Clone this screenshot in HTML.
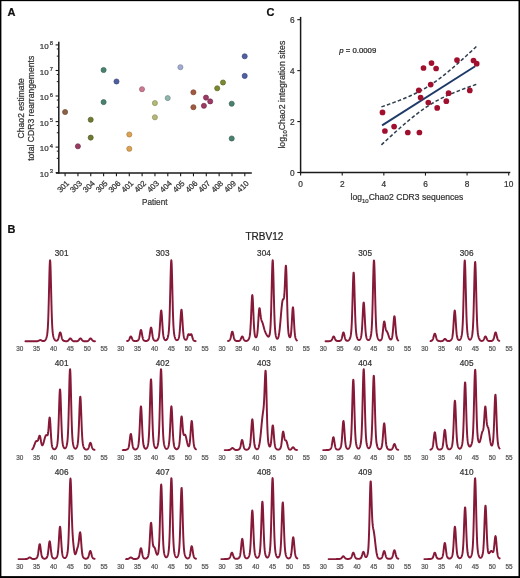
<!DOCTYPE html>
<html><head><meta charset="utf-8"><style>
html,body{margin:0;padding:0;background:#fff;}
svg{display:block;will-change:transform;}
svg text{font-family:"Liberation Sans",sans-serif;}
</style></head><body>
<svg width="520" height="578" viewBox="0 0 520 578">
<rect x="0" y="0" width="520" height="578" fill="#fff"/>
<text stroke="#111" stroke-width="0.22" x="7.6" y="16.2" font-size="11" font-weight="bold" fill="#111">A</text>
<text stroke="#111" stroke-width="0.22" x="7.6" y="233.4" font-size="11" font-weight="bold" fill="#111">B</text>
<text stroke="#111" stroke-width="0.22" x="266.6" y="16.4" font-size="11" font-weight="bold" fill="#111">C</text>
<line x1="58.8" y1="41.8" x2="58.8" y2="173.7" stroke="#1a1a1a" stroke-width="1.5"/>
<line x1="56" y1="173.0" x2="251.8" y2="173.0" stroke="#1a1a1a" stroke-width="1.4"/>
<line x1="55.6" y1="44.90" x2="58.8" y2="44.90" stroke="#1a1a1a" stroke-width="1.1"/>
<text stroke="#333" stroke-width="0.22" x="48.6" y="48.90" font-size="8.0" fill="#333" text-anchor="end">10</text>
<text stroke="#333" stroke-width="0.22" x="49.8" y="45.40" font-size="5.8" fill="#333">8</text>
<line x1="55.6" y1="70.50" x2="58.8" y2="70.50" stroke="#1a1a1a" stroke-width="1.1"/>
<text stroke="#333" stroke-width="0.22" x="48.6" y="74.50" font-size="8.0" fill="#333" text-anchor="end">10</text>
<text stroke="#333" stroke-width="0.22" x="49.8" y="71.00" font-size="5.8" fill="#333">7</text>
<line x1="55.6" y1="96.00" x2="58.8" y2="96.00" stroke="#1a1a1a" stroke-width="1.1"/>
<text stroke="#333" stroke-width="0.22" x="48.6" y="100.00" font-size="8.0" fill="#333" text-anchor="end">10</text>
<text stroke="#333" stroke-width="0.22" x="49.8" y="96.50" font-size="5.8" fill="#333">6</text>
<line x1="55.6" y1="121.60" x2="58.8" y2="121.60" stroke="#1a1a1a" stroke-width="1.1"/>
<text stroke="#333" stroke-width="0.22" x="48.6" y="125.60" font-size="8.0" fill="#333" text-anchor="end">10</text>
<text stroke="#333" stroke-width="0.22" x="49.8" y="122.10" font-size="5.8" fill="#333">5</text>
<line x1="55.6" y1="147.10" x2="58.8" y2="147.10" stroke="#1a1a1a" stroke-width="1.1"/>
<text stroke="#333" stroke-width="0.22" x="48.6" y="151.10" font-size="8.0" fill="#333" text-anchor="end">10</text>
<text stroke="#333" stroke-width="0.22" x="49.8" y="147.60" font-size="5.8" fill="#333">4</text>
<line x1="55.6" y1="172.70" x2="58.8" y2="172.70" stroke="#1a1a1a" stroke-width="1.1"/>
<text stroke="#333" stroke-width="0.22" x="48.6" y="176.70" font-size="8.0" fill="#333" text-anchor="end">10</text>
<text stroke="#333" stroke-width="0.22" x="49.8" y="173.20" font-size="5.8" fill="#333">3</text>
<line x1="56.8" y1="151.14" x2="58.8" y2="151.14" stroke="#1a1a1a" stroke-width="1.0"/>
<line x1="56.8" y1="158.34" x2="58.8" y2="158.34" stroke="#1a1a1a" stroke-width="1.0"/>
<line x1="56.8" y1="125.54" x2="58.8" y2="125.54" stroke="#1a1a1a" stroke-width="1.0"/>
<line x1="56.8" y1="132.74" x2="58.8" y2="132.74" stroke="#1a1a1a" stroke-width="1.0"/>
<line x1="56.8" y1="100.04" x2="58.8" y2="100.04" stroke="#1a1a1a" stroke-width="1.0"/>
<line x1="56.8" y1="107.24" x2="58.8" y2="107.24" stroke="#1a1a1a" stroke-width="1.0"/>
<line x1="56.8" y1="74.44" x2="58.8" y2="74.44" stroke="#1a1a1a" stroke-width="1.0"/>
<line x1="56.8" y1="81.64" x2="58.8" y2="81.64" stroke="#1a1a1a" stroke-width="1.0"/>
<line x1="56.8" y1="48.94" x2="58.8" y2="48.94" stroke="#1a1a1a" stroke-width="1.0"/>
<line x1="56.8" y1="56.14" x2="58.8" y2="56.14" stroke="#1a1a1a" stroke-width="1.0"/>
<line x1="65.10" y1="173.0" x2="65.10" y2="176.3" stroke="#1a1a1a" stroke-width="1.1"/>
<text stroke="#333" stroke-width="0.22" x="69.70" y="183.80" font-size="7.9" fill="#333" text-anchor="end" transform="rotate(-45 69.70 183.80)">301</text>
<line x1="77.94" y1="173.0" x2="77.94" y2="176.3" stroke="#1a1a1a" stroke-width="1.1"/>
<text stroke="#333" stroke-width="0.22" x="82.54" y="183.80" font-size="7.9" fill="#333" text-anchor="end" transform="rotate(-45 82.54 183.80)">303</text>
<line x1="90.77" y1="173.0" x2="90.77" y2="176.3" stroke="#1a1a1a" stroke-width="1.1"/>
<text stroke="#333" stroke-width="0.22" x="95.37" y="183.80" font-size="7.9" fill="#333" text-anchor="end" transform="rotate(-45 95.37 183.80)">304</text>
<line x1="103.61" y1="173.0" x2="103.61" y2="176.3" stroke="#1a1a1a" stroke-width="1.1"/>
<text stroke="#333" stroke-width="0.22" x="108.21" y="183.80" font-size="7.9" fill="#333" text-anchor="end" transform="rotate(-45 108.21 183.80)">305</text>
<line x1="116.44" y1="173.0" x2="116.44" y2="176.3" stroke="#1a1a1a" stroke-width="1.1"/>
<text stroke="#333" stroke-width="0.22" x="121.04" y="183.80" font-size="7.9" fill="#333" text-anchor="end" transform="rotate(-45 121.04 183.80)">306</text>
<line x1="129.28" y1="173.0" x2="129.28" y2="176.3" stroke="#1a1a1a" stroke-width="1.1"/>
<text stroke="#333" stroke-width="0.22" x="133.88" y="183.80" font-size="7.9" fill="#333" text-anchor="end" transform="rotate(-45 133.88 183.80)">401</text>
<line x1="142.12" y1="173.0" x2="142.12" y2="176.3" stroke="#1a1a1a" stroke-width="1.1"/>
<text stroke="#333" stroke-width="0.22" x="146.72" y="183.80" font-size="7.9" fill="#333" text-anchor="end" transform="rotate(-45 146.72 183.80)">402</text>
<line x1="154.95" y1="173.0" x2="154.95" y2="176.3" stroke="#1a1a1a" stroke-width="1.1"/>
<text stroke="#333" stroke-width="0.22" x="159.55" y="183.80" font-size="7.9" fill="#333" text-anchor="end" transform="rotate(-45 159.55 183.80)">403</text>
<line x1="167.79" y1="173.0" x2="167.79" y2="176.3" stroke="#1a1a1a" stroke-width="1.1"/>
<text stroke="#333" stroke-width="0.22" x="172.39" y="183.80" font-size="7.9" fill="#333" text-anchor="end" transform="rotate(-45 172.39 183.80)">404</text>
<line x1="180.62" y1="173.0" x2="180.62" y2="176.3" stroke="#1a1a1a" stroke-width="1.1"/>
<text stroke="#333" stroke-width="0.22" x="185.22" y="183.80" font-size="7.9" fill="#333" text-anchor="end" transform="rotate(-45 185.22 183.80)">405</text>
<line x1="193.46" y1="173.0" x2="193.46" y2="176.3" stroke="#1a1a1a" stroke-width="1.1"/>
<text stroke="#333" stroke-width="0.22" x="198.06" y="183.80" font-size="7.9" fill="#333" text-anchor="end" transform="rotate(-45 198.06 183.80)">406</text>
<line x1="206.30" y1="173.0" x2="206.30" y2="176.3" stroke="#1a1a1a" stroke-width="1.1"/>
<text stroke="#333" stroke-width="0.22" x="210.90" y="183.80" font-size="7.9" fill="#333" text-anchor="end" transform="rotate(-45 210.90 183.80)">407</text>
<line x1="219.13" y1="173.0" x2="219.13" y2="176.3" stroke="#1a1a1a" stroke-width="1.1"/>
<text stroke="#333" stroke-width="0.22" x="223.73" y="183.80" font-size="7.9" fill="#333" text-anchor="end" transform="rotate(-45 223.73 183.80)">408</text>
<line x1="231.97" y1="173.0" x2="231.97" y2="176.3" stroke="#1a1a1a" stroke-width="1.1"/>
<text stroke="#333" stroke-width="0.22" x="236.57" y="183.80" font-size="7.9" fill="#333" text-anchor="end" transform="rotate(-45 236.57 183.80)">409</text>
<line x1="244.80" y1="173.0" x2="244.80" y2="176.3" stroke="#1a1a1a" stroke-width="1.1"/>
<text stroke="#333" stroke-width="0.22" x="249.40" y="183.80" font-size="7.9" fill="#333" text-anchor="end" transform="rotate(-45 249.40 183.80)">410</text>
<text stroke="#333" stroke-width="0.22" x="142" y="205" font-size="9.2" fill="#333" textLength="25.5" lengthAdjust="spacingAndGlyphs">Patient</text>
<text stroke="#333" stroke-width="0.22" transform="translate(23.8 108.3) rotate(-90)" font-size="8.6" fill="#333" text-anchor="middle">Chao2 estimate</text>
<text stroke="#333" stroke-width="0.22" transform="translate(33.8 108.3) rotate(-90)" font-size="8.6" fill="#333" text-anchor="middle">total CDR3 rearrangements</text>
<circle cx="65.1" cy="112.0" r="2.55" fill="#8c6246" stroke="#6d4c36" stroke-width="0.7"/>
<circle cx="77.9" cy="146.3" r="2.55" fill="#983c62" stroke="#762e4c" stroke-width="0.7"/>
<circle cx="90.7" cy="119.7" r="2.55" fill="#6c7a34" stroke="#545f28" stroke-width="0.7"/>
<circle cx="90.7" cy="137.6" r="2.55" fill="#6c7a34" stroke="#545f28" stroke-width="0.7"/>
<circle cx="103.6" cy="70.0" r="2.55" fill="#4a8270" stroke="#396557" stroke-width="0.7"/>
<circle cx="103.6" cy="102.1" r="2.55" fill="#4a8270" stroke="#396557" stroke-width="0.7"/>
<circle cx="116.5" cy="81.5" r="2.55" fill="#4e5e9e" stroke="#3c497b" stroke-width="0.7"/>
<circle cx="129.3" cy="134.5" r="2.55" fill="#dca252" stroke="#ab7e3f" stroke-width="0.7"/>
<circle cx="129.3" cy="148.8" r="2.55" fill="#dca252" stroke="#ab7e3f" stroke-width="0.7"/>
<circle cx="142.0" cy="89.2" r="2.55" fill="#cc7a92" stroke="#9f5f71" stroke-width="0.7"/>
<circle cx="154.9" cy="103.1" r="2.55" fill="#b6b878" stroke="#8d8f5d" stroke-width="0.7"/>
<circle cx="154.9" cy="117.3" r="2.55" fill="#b6b878" stroke="#8d8f5d" stroke-width="0.7"/>
<circle cx="167.7" cy="98.1" r="2.55" fill="#90b6ac" stroke="#708d86" stroke-width="0.7"/>
<circle cx="180.4" cy="67.2" r="2.55" fill="#a2acd2" stroke="#7e86a3" stroke-width="0.7"/>
<circle cx="193.4" cy="92.3" r="2.55" fill="#a05a3e" stroke="#7c4630" stroke-width="0.7"/>
<circle cx="193.4" cy="107.2" r="2.55" fill="#a05a3e" stroke="#7c4630" stroke-width="0.7"/>
<circle cx="206.0" cy="97.6" r="2.55" fill="#9c3a66" stroke="#792d4f" stroke-width="0.7"/>
<circle cx="210.2" cy="101.4" r="2.55" fill="#9c3a66" stroke="#792d4f" stroke-width="0.7"/>
<circle cx="203.9" cy="105.8" r="2.55" fill="#9c3a66" stroke="#792d4f" stroke-width="0.7"/>
<circle cx="217.2" cy="88.3" r="2.55" fill="#7a8a30" stroke="#5f6b25" stroke-width="0.7"/>
<circle cx="223.0" cy="82.5" r="2.55" fill="#7a8a30" stroke="#5f6b25" stroke-width="0.7"/>
<circle cx="231.7" cy="103.7" r="2.55" fill="#4a8070" stroke="#396357" stroke-width="0.7"/>
<circle cx="231.7" cy="138.5" r="2.55" fill="#4a8070" stroke="#396357" stroke-width="0.7"/>
<circle cx="244.7" cy="56.3" r="2.55" fill="#5060a0" stroke="#3e4a7c" stroke-width="0.7"/>
<circle cx="244.7" cy="75.9" r="2.55" fill="#5060a0" stroke="#3e4a7c" stroke-width="0.7"/>
<line x1="300.6" y1="16.9" x2="300.6" y2="173.2" stroke="#1a1a1a" stroke-width="1.5"/>
<line x1="299.90000000000003" y1="172.5" x2="510.3" y2="172.5" stroke="#1a1a1a" stroke-width="1.4"/>
<line x1="297.3" y1="172.50" x2="300.6" y2="172.50" stroke="#1a1a1a" stroke-width="1.1"/>
<text stroke="#333" stroke-width="0.22" x="294.6" y="175.90" font-size="8.3" fill="#333" text-anchor="end">0</text>
<line x1="297.3" y1="121.56" x2="300.6" y2="121.56" stroke="#1a1a1a" stroke-width="1.1"/>
<text stroke="#333" stroke-width="0.22" x="294.6" y="124.96" font-size="8.3" fill="#333" text-anchor="end">2</text>
<line x1="297.3" y1="70.62" x2="300.6" y2="70.62" stroke="#1a1a1a" stroke-width="1.1"/>
<text stroke="#333" stroke-width="0.22" x="294.6" y="74.02" font-size="8.3" fill="#333" text-anchor="end">4</text>
<line x1="297.3" y1="19.68" x2="300.6" y2="19.68" stroke="#1a1a1a" stroke-width="1.1"/>
<text stroke="#333" stroke-width="0.22" x="294.6" y="23.08" font-size="8.3" fill="#333" text-anchor="end">6</text>
<line x1="300.60" y1="172.5" x2="300.60" y2="175.6" stroke="#1a1a1a" stroke-width="1.1"/>
<text stroke="#333" stroke-width="0.22" x="300.60" y="186.8" font-size="8.3" fill="#333" text-anchor="middle">0</text>
<line x1="342.22" y1="172.5" x2="342.22" y2="175.6" stroke="#1a1a1a" stroke-width="1.1"/>
<text stroke="#333" stroke-width="0.22" x="342.22" y="186.8" font-size="8.3" fill="#333" text-anchor="middle">2</text>
<line x1="383.84" y1="172.5" x2="383.84" y2="175.6" stroke="#1a1a1a" stroke-width="1.1"/>
<text stroke="#333" stroke-width="0.22" x="383.84" y="186.8" font-size="8.3" fill="#333" text-anchor="middle">4</text>
<line x1="425.46" y1="172.5" x2="425.46" y2="175.6" stroke="#1a1a1a" stroke-width="1.1"/>
<text stroke="#333" stroke-width="0.22" x="425.46" y="186.8" font-size="8.3" fill="#333" text-anchor="middle">6</text>
<line x1="467.08" y1="172.5" x2="467.08" y2="175.6" stroke="#1a1a1a" stroke-width="1.1"/>
<text stroke="#333" stroke-width="0.22" x="467.08" y="186.8" font-size="8.3" fill="#333" text-anchor="middle">8</text>
<line x1="508.70" y1="172.5" x2="508.70" y2="175.6" stroke="#1a1a1a" stroke-width="1.1"/>
<text stroke="#333" stroke-width="0.22" x="508.70" y="186.8" font-size="8.3" fill="#333" text-anchor="middle">10</text>
<text stroke="#333" stroke-width="0.22" x="350.6" y="199.9" font-size="8.55" fill="#333">log<tspan font-size="6" dy="2.6">10</tspan><tspan dy="-2.6">Chao2 CDR3 sequences</tspan></text>
<text stroke="#333" stroke-width="0.22" transform="translate(284.8 148.6) rotate(-90)" font-size="8.75" fill="#333">log<tspan font-size="6" dy="2.6">10</tspan><tspan dy="-2.6">Chao2 integration sites</tspan></text>
<text stroke="#222" stroke-width="0.22" x="339.2" y="53.0" font-size="7.8" fill="#222"><tspan font-style="italic">p</tspan> = 0.0009</text>
<line x1="382.1" y1="125.4" x2="475.2" y2="66.2" stroke="#1e3a68" stroke-width="1.9"/>
<polyline points="381.40,106.91 382.99,106.36 384.58,105.81 386.16,105.25 387.75,104.69 389.34,104.13 390.93,103.55 392.52,102.98 394.11,102.39 395.69,101.80 397.28,101.20 398.87,100.59 400.46,99.96 402.05,99.33 403.64,98.69 405.22,98.04 406.81,97.37 408.40,96.68 409.99,95.98 411.58,95.26 413.17,94.53 414.75,93.77 416.34,92.99 417.93,92.19 419.52,91.37 421.11,90.51 422.70,89.63 424.28,88.73 425.87,87.79 427.46,86.83 429.05,85.83 430.64,84.80 432.23,83.75 433.81,82.66 435.40,81.55 436.99,80.40 438.58,79.23 440.17,78.04 441.76,76.82 443.34,75.57 444.93,74.31 446.52,73.02 448.11,71.72 449.70,70.40 451.29,69.06 452.88,67.71 454.46,66.34 456.05,64.96 457.64,63.57 459.23,62.17 460.82,60.76 462.40,59.34 463.99,57.92 465.58,56.48 467.17,55.04 468.76,53.59 470.35,52.14 471.94,50.68 473.52,49.21 475.11,47.74 476.70,46.27" fill="none" stroke="#2e3e4e" stroke-width="1.5" stroke-dasharray="3.6 2.2"/>
<polyline points="381.40,144.86 382.99,143.38 384.58,141.91 386.16,140.45 387.75,138.99 389.34,137.53 390.93,136.09 392.52,134.64 394.11,133.21 395.69,131.78 397.28,130.36 398.87,128.95 400.46,127.55 402.05,126.17 403.64,124.79 405.22,123.42 406.81,122.07 408.40,120.74 409.99,119.42 411.58,118.11 413.17,116.83 414.75,115.56 416.34,114.32 417.93,113.10 419.52,111.91 421.11,110.74 422.70,109.60 424.28,108.49 425.87,107.40 427.46,106.35 429.05,105.32 430.64,104.33 432.23,103.36 433.81,102.43 435.40,101.53 436.99,100.65 438.58,99.80 440.17,98.97 441.76,98.17 443.34,97.40 444.93,96.64 446.52,95.91 448.11,95.19 449.70,94.49 451.29,93.81 452.88,93.14 454.46,92.48 456.05,91.84 457.64,91.21 459.23,90.59 460.82,89.98 462.40,89.38 463.99,88.79 465.58,88.20 467.17,87.62 468.76,87.05 470.35,86.49 471.94,85.93 473.52,85.37 475.11,84.82 476.70,84.28" fill="none" stroke="#2e3e4e" stroke-width="1.5" stroke-dasharray="3.6 2.2"/>
<circle cx="382.5" cy="112.4" r="2.85" fill="#a0102e"/>
<circle cx="384.9" cy="131.0" r="2.85" fill="#a0102e"/>
<circle cx="394.1" cy="126.6" r="2.85" fill="#a0102e"/>
<circle cx="407.8" cy="132.5" r="2.85" fill="#a0102e"/>
<circle cx="419.4" cy="132.5" r="2.85" fill="#a0102e"/>
<circle cx="418.8" cy="90.3" r="2.85" fill="#a0102e"/>
<circle cx="420.6" cy="97.5" r="2.85" fill="#a0102e"/>
<circle cx="428.3" cy="102.5" r="2.85" fill="#a0102e"/>
<circle cx="430.7" cy="84.6" r="2.85" fill="#a0102e"/>
<circle cx="423.5" cy="68.0" r="2.85" fill="#a0102e"/>
<circle cx="431.5" cy="63.1" r="2.85" fill="#a0102e"/>
<circle cx="436.1" cy="68.5" r="2.85" fill="#a0102e"/>
<circle cx="437.2" cy="107.9" r="2.85" fill="#a0102e"/>
<circle cx="446.3" cy="101.2" r="2.85" fill="#a0102e"/>
<circle cx="448.6" cy="93.2" r="2.85" fill="#a0102e"/>
<circle cx="457.0" cy="60.1" r="2.85" fill="#a0102e"/>
<circle cx="469.8" cy="90.4" r="2.85" fill="#a0102e"/>
<circle cx="473.5" cy="60.5" r="2.85" fill="#a0102e"/>
<circle cx="476.7" cy="63.7" r="2.85" fill="#a0102e"/>
<text stroke="#222" stroke-width="0.22" x="264.4" y="240.3" font-size="10" fill="#222" text-anchor="middle">TRBV12</text>
<text stroke="#333" stroke-width="0.22" x="61.62" y="256.00" font-size="8.2" fill="#333" text-anchor="middle">301</text>
<text stroke="#555" stroke-width="0.22" x="19.70" y="351.10" font-size="6.4" fill="#555" text-anchor="middle">30</text>
<text stroke="#555" stroke-width="0.22" x="36.58" y="351.10" font-size="6.4" fill="#555" text-anchor="middle">35</text>
<text stroke="#555" stroke-width="0.22" x="53.45" y="351.10" font-size="6.4" fill="#555" text-anchor="middle">40</text>
<text stroke="#555" stroke-width="0.22" x="70.33" y="351.10" font-size="6.4" fill="#555" text-anchor="middle">45</text>
<text stroke="#555" stroke-width="0.22" x="87.20" y="351.10" font-size="6.4" fill="#555" text-anchor="middle">50</text>
<text stroke="#555" stroke-width="0.22" x="104.08" y="351.10" font-size="6.4" fill="#555" text-anchor="middle">55</text>
<polyline points="25.44,341.30 25.61,341.30 25.79,341.30 25.96,341.30 26.13,341.30 26.31,341.30 26.48,341.30 26.65,341.30 26.83,341.30 27.00,341.30 27.18,341.30 27.35,341.30 27.52,341.30 27.70,341.30 27.87,341.30 28.04,341.30 28.22,341.30 28.39,341.30 28.57,341.30 28.74,341.30 28.91,341.30 29.09,341.30 29.26,341.30 29.44,341.30 29.61,341.30 29.78,341.30 29.96,341.30 30.13,341.30 30.30,341.30 30.48,341.30 30.65,341.30 30.83,341.30 31.00,341.30 31.17,341.30 31.35,341.30 31.52,341.30 31.69,341.30 31.87,341.30 32.04,341.30 32.22,341.30 32.39,341.30 32.56,341.30 32.74,341.30 32.91,341.30 33.09,341.30 33.26,341.30 33.43,341.30 33.61,341.30 33.78,341.30 33.95,341.30 34.13,341.30 34.30,341.30 34.48,341.30 34.65,341.30 34.82,341.30 35.00,341.30 35.17,341.30 35.34,341.30 35.52,341.30 35.69,341.30 35.87,341.29 36.04,341.29 36.21,341.29 36.39,341.28 36.56,341.27 36.74,341.26 36.91,341.25 37.08,341.23 37.26,341.20 37.43,341.17 37.60,341.13 37.78,341.08 37.95,341.03 38.13,340.96 38.30,340.89 38.47,340.81 38.65,340.72 38.82,340.63 38.99,340.53 39.17,340.44 39.34,340.35 39.52,340.27 39.69,340.20 39.86,340.14 40.04,340.11 40.21,340.09 40.39,340.09 40.56,340.11 40.73,340.15 40.91,340.20 41.08,340.28 41.25,340.36 41.43,340.44 41.60,340.54 41.78,340.63 41.95,340.72 42.12,340.80 42.30,340.88 42.47,340.94 42.64,341.00 42.82,341.04 42.99,341.07 43.17,341.09 43.34,341.09 43.51,341.09 43.69,341.06 43.86,341.03 44.04,340.98 44.21,340.92 44.38,340.84 44.56,340.73 44.73,340.61 44.90,340.47 45.08,340.29 45.25,340.09 45.43,339.86 45.60,339.59 45.77,339.29 45.95,338.94 46.12,338.55 46.29,338.10 46.47,337.59 46.64,337.00 46.82,336.32 46.99,335.51 47.16,334.51 47.34,333.27 47.51,331.71 47.69,329.71 47.86,327.16 48.03,323.93 48.21,319.93 48.38,315.06 48.55,309.32 48.73,302.78 48.90,295.62 49.08,288.13 49.25,280.70 49.42,273.79 49.60,267.90 49.77,263.48 49.95,260.89 50.12,260.37 50.29,261.95 50.47,265.50 50.64,270.72 50.81,277.18 50.99,284.42 51.16,291.93 51.34,299.30 51.51,306.17 51.68,312.32 51.86,317.62 52.03,322.05 52.20,325.65 52.38,328.52 52.55,330.77 52.73,332.54 52.90,333.92 53.07,335.03 53.25,335.92 53.42,336.66 53.60,337.29 53.77,337.82 53.94,338.29 54.12,338.70 54.29,339.06 54.46,339.38 54.64,339.65 54.81,339.88 54.99,340.08 55.16,340.24 55.33,340.38 55.51,340.48 55.68,340.57 55.85,340.62 56.03,340.66 56.20,340.68 56.38,340.68 56.55,340.67 56.72,340.63 56.90,340.58 57.07,340.50 57.25,340.40 57.42,340.26 57.59,340.08 57.77,339.85 57.94,339.55 58.11,339.19 58.29,338.74 58.46,338.20 58.64,337.59 58.81,336.89 58.98,336.14 59.16,335.37 59.33,334.60 59.50,333.89 59.68,333.27 59.85,332.79 60.03,332.49 60.20,332.39 60.37,332.49 60.55,332.79 60.72,333.27 60.90,333.89 61.07,334.60 61.24,335.37 61.42,336.15 61.59,336.90 61.76,337.59 61.94,338.21 62.11,338.75 62.29,339.20 62.46,339.57 62.63,339.87 62.81,340.11 62.98,340.30 63.15,340.45 63.33,340.58 63.50,340.68 63.68,340.76 63.85,340.83 64.02,340.89 64.20,340.94 64.37,340.99 64.55,341.03 64.72,341.07 64.89,341.10 65.07,341.13 65.24,341.16 65.41,341.18 65.59,341.19 65.76,341.21 65.94,341.22 66.11,341.23 66.28,341.23 66.46,341.23 66.63,341.22 66.80,341.21 66.98,341.19 67.15,341.15 67.33,341.10 67.50,341.04 67.67,340.96 67.85,340.85 68.02,340.73 68.20,340.58 68.37,340.41 68.54,340.22 68.72,340.01 68.89,339.78 69.06,339.55 69.24,339.32 69.41,339.10 69.59,338.90 69.76,338.73 69.93,338.59 70.11,338.51 70.28,338.47 70.45,338.48 70.63,338.54 70.80,338.65 70.98,338.81 71.15,339.00 71.32,339.21 71.50,339.43 71.67,339.67 71.85,339.90 72.02,340.12 72.19,340.32 72.37,340.50 72.54,340.66 72.71,340.80 72.89,340.92 73.06,341.01 73.24,341.08 73.41,341.14 73.58,341.19 73.76,341.22 73.93,341.25 74.10,341.26 74.28,341.28 74.45,341.28 74.63,341.29 74.80,341.29 74.97,341.30 75.15,341.30 75.32,341.30 75.50,341.30 75.67,341.30 75.84,341.30 76.02,341.29 76.19,341.29 76.36,341.28 76.54,341.27 76.71,341.26 76.89,341.24 77.06,341.21 77.23,341.18 77.41,341.13 77.58,341.07 77.76,340.99 77.93,340.89 78.10,340.77 78.28,340.63 78.45,340.46 78.62,340.27 78.80,340.06 78.97,339.84 79.15,339.61 79.32,339.38 79.49,339.15 79.67,338.95 79.84,338.77 80.01,338.62 80.19,338.52 80.36,338.47 80.54,338.47 80.71,338.52 80.88,338.62 81.06,338.77 81.23,338.95 81.41,339.15 81.58,339.38 81.75,339.61 81.93,339.84 82.10,340.06 82.27,340.27 82.45,340.46 82.62,340.62 82.80,340.77 82.97,340.89 83.14,340.99 83.32,341.07 83.49,341.13 83.66,341.18 83.84,341.21 84.01,341.24 84.19,341.26 84.36,341.27 84.53,341.28 84.71,341.29 84.88,341.29 85.06,341.30 85.23,341.30 85.40,341.30 85.58,341.30 85.75,341.30 85.92,341.30 86.10,341.29 86.27,341.29 86.45,341.28 86.62,341.28 86.79,341.26 86.97,341.25 87.14,341.22 87.31,341.19 87.49,341.14 87.66,341.08 87.84,341.01 88.01,340.92 88.18,340.80 88.36,340.66 88.53,340.50 88.71,340.32 88.88,340.12 89.05,339.90 89.23,339.67 89.40,339.44 89.57,339.21 89.75,339.00 89.92,338.81 90.10,338.66 90.27,338.54 90.44,338.48 90.62,338.47 90.79,338.50 90.96,338.59 91.14,338.73 91.31,338.90 91.49,339.10 91.66,339.32 91.83,339.55 92.01,339.78 92.18,340.01 92.36,340.22 92.53,340.41 92.70,340.58 92.88,340.73 93.05,340.86 93.22,340.96 93.40,341.05 93.57,341.12 93.75,341.17 93.92,341.21 94.09,341.23 94.27,341.26 94.44,341.27 94.61,341.28 94.79,341.29 94.96,341.29" fill="none" stroke="#861838" stroke-width="1.95" stroke-linejoin="round" stroke-linecap="round"/>
<text stroke="#333" stroke-width="0.22" x="162.62" y="256.00" font-size="8.2" fill="#333" text-anchor="middle">303</text>
<text stroke="#555" stroke-width="0.22" x="120.70" y="351.10" font-size="6.4" fill="#555" text-anchor="middle">30</text>
<text stroke="#555" stroke-width="0.22" x="137.57" y="351.10" font-size="6.4" fill="#555" text-anchor="middle">35</text>
<text stroke="#555" stroke-width="0.22" x="154.45" y="351.10" font-size="6.4" fill="#555" text-anchor="middle">40</text>
<text stroke="#555" stroke-width="0.22" x="171.32" y="351.10" font-size="6.4" fill="#555" text-anchor="middle">45</text>
<text stroke="#555" stroke-width="0.22" x="188.20" y="351.10" font-size="6.4" fill="#555" text-anchor="middle">50</text>
<text stroke="#555" stroke-width="0.22" x="205.07" y="351.10" font-size="6.4" fill="#555" text-anchor="middle">55</text>
<polyline points="127.11,341.06 127.28,341.02 127.46,340.98 127.63,340.93 127.80,340.87 127.97,340.79 128.14,340.70 128.31,340.59 128.48,340.44 128.65,340.26 128.83,340.04 129.00,339.77 129.17,339.46 129.34,339.11 129.51,338.72 129.68,338.31 129.85,337.89 130.02,337.49 130.20,337.12 130.37,336.82 130.54,336.59 130.71,336.46 130.88,336.45 131.05,336.54 131.22,336.73 131.39,337.01 131.57,337.35 131.74,337.75 131.91,338.16 132.08,338.58 132.25,338.98 132.42,339.34 132.59,339.67 132.76,339.95 132.94,340.19 133.11,340.38 133.28,340.53 133.45,340.66 133.62,340.76 133.79,340.84 133.96,340.90 134.14,340.95 134.31,340.99 134.48,341.02 134.65,341.05 134.82,341.07 134.99,341.08 135.16,341.10 135.33,341.10 135.51,341.11 135.68,341.10 135.85,341.09 136.02,341.08 136.19,341.06 136.36,341.04 136.53,341.01 136.70,340.97 136.88,340.93 137.05,340.87 137.22,340.82 137.39,340.75 137.56,340.66 137.73,340.57 137.90,340.45 138.07,340.31 138.25,340.13 138.42,339.91 138.59,339.62 138.76,339.26 138.93,338.80 139.10,338.23 139.27,337.55 139.44,336.75 139.62,335.84 139.79,334.84 139.96,333.81 140.13,332.79 140.30,331.84 140.47,331.02 140.64,330.41 140.81,330.05 140.99,329.97 141.16,330.17 141.33,330.64 141.50,331.35 141.67,332.23 141.84,333.21 142.01,334.25 142.19,335.27 142.36,336.23 142.53,337.10 142.70,337.85 142.87,338.49 143.04,339.01 143.21,339.42 143.38,339.75 143.56,340.01 143.73,340.21 143.90,340.37 144.07,340.50 144.24,340.61 144.41,340.69 144.58,340.77 144.75,340.83 144.93,340.88 145.10,340.92 145.27,340.96 145.44,340.98 145.61,341.00 145.78,341.01 145.95,341.01 146.12,341.00 146.30,340.99 146.47,340.97 146.64,340.94 146.81,340.89 146.98,340.84 147.15,340.79 147.32,340.72 147.49,340.63 147.67,340.54 147.84,340.43 148.01,340.29 148.18,340.12 148.35,339.91 148.52,339.65 148.69,339.31 148.87,338.88 149.04,338.33 149.21,337.66 149.38,336.85 149.55,335.89 149.72,334.80 149.89,333.60 150.06,332.35 150.24,331.10 150.41,329.93 150.58,328.92 150.75,328.15 150.92,327.67 151.09,327.53 151.26,327.74 151.43,328.28 151.61,329.10 151.78,330.15 151.95,331.34 152.12,332.60 152.29,333.84 152.46,335.02 152.63,336.09 152.80,337.02 152.98,337.80 153.15,338.45 153.32,338.97 153.49,339.37 153.66,339.70 153.83,339.95 154.00,340.14 154.17,340.30 154.35,340.43 154.52,340.53 154.69,340.61 154.86,340.68 155.03,340.74 155.20,340.78 155.37,340.81 155.55,340.83 155.72,340.83 155.89,340.82 156.06,340.80 156.23,340.76 156.40,340.71 156.57,340.64 156.74,340.56 156.92,340.46 157.09,340.34 157.26,340.20 157.43,340.04 157.60,339.86 157.77,339.64 157.94,339.39 158.11,339.09 158.29,338.72 158.46,338.26 158.63,337.68 158.80,336.94 158.97,336.01 159.14,334.82 159.31,333.35 159.48,331.57 159.66,329.46 159.83,327.05 160.00,324.40 160.17,321.61 160.34,318.81 160.51,316.17 160.68,313.86 160.85,312.07 161.03,310.92 161.20,310.52 161.37,310.90 161.54,312.02 161.71,313.80 161.88,316.09 162.05,318.73 162.23,321.53 162.40,324.32 162.57,326.98 162.74,329.39 162.91,331.51 163.08,333.30 163.25,334.77 163.42,335.96 163.60,336.90 163.77,337.64 163.94,338.21 164.11,338.66 164.28,339.02 164.45,339.30 164.62,339.54 164.79,339.73 164.97,339.88 165.14,340.00 165.31,340.09 165.48,340.14 165.65,340.17 165.82,340.17 165.99,340.13 166.16,340.06 166.34,339.96 166.51,339.82 166.68,339.63 166.85,339.41 167.02,339.15 167.19,338.83 167.36,338.47 167.53,338.05 167.71,337.57 167.88,337.01 168.05,336.36 168.22,335.58 168.39,334.63 168.56,333.46 168.73,331.97 168.91,330.08 169.08,327.68 169.25,324.65 169.42,320.87 169.59,316.27 169.76,310.82 169.93,304.57 170.10,297.65 170.28,290.33 170.45,282.94 170.62,275.92 170.79,269.73 170.96,264.83 171.13,261.60 171.30,260.32 171.47,261.08 171.65,263.83 171.82,268.33 171.99,274.23 172.16,281.09 172.33,288.42 172.50,295.80 172.67,302.85 172.84,309.29 173.02,314.95 173.19,319.77 173.36,323.75 173.53,326.97 173.70,329.52 173.87,331.53 174.04,333.11 174.21,334.35 174.39,335.35 174.56,336.17 174.73,336.85 174.90,337.43 175.07,337.93 175.24,338.37 175.41,338.74 175.59,339.07 175.76,339.34 175.93,339.58 176.10,339.77 176.27,339.92 176.44,340.03 176.61,340.11 176.78,340.15 176.96,340.16 177.13,340.14 177.30,340.08 177.47,340.00 177.64,339.88 177.81,339.73 177.98,339.55 178.15,339.32 178.33,339.04 178.50,338.70 178.67,338.26 178.84,337.71 179.01,337.00 179.18,336.09 179.35,334.94 179.52,333.50 179.70,331.75 179.87,329.66 180.04,327.26 180.21,324.59 180.38,321.75 180.55,318.86 180.72,316.10 180.89,313.64 181.07,311.66 181.24,310.32 181.41,309.73 181.58,309.93 181.75,310.92 181.92,312.60 182.09,314.85 182.27,317.48 182.44,320.33 182.61,323.21 182.78,325.97 182.95,328.50 183.12,330.74 183.29,332.65 183.46,334.22 183.64,335.49 183.81,336.50 183.98,337.29 184.15,337.89 184.32,338.37 184.49,338.74 184.66,339.03 184.83,339.27 185.01,339.46 185.18,339.61 185.35,339.72 185.52,339.80 185.69,339.85 185.86,339.86 186.03,339.82 186.20,339.73 186.38,339.58 186.55,339.36 186.72,339.07 186.89,338.69 187.06,338.24 187.23,337.72 187.40,337.14 187.57,336.54 187.75,335.93 187.92,335.37 188.09,334.87 188.26,334.48 188.43,334.22 188.60,334.10 188.77,334.10 188.95,334.22 189.12,334.42 189.29,334.65 189.46,334.87 189.63,335.05 189.80,335.14 189.97,335.14 190.14,335.05 190.32,334.88 190.49,334.66 190.66,334.43 190.83,334.23 191.00,334.12 191.17,334.12 191.34,334.25 191.51,334.52 191.69,334.92 191.86,335.43 192.03,336.01 192.20,336.63 192.37,337.27 192.54,337.87 192.71,338.43 192.88,338.93 193.06,339.35 193.23,339.71 193.40,340.00 193.57,340.23 193.74,340.42 193.91,340.56 194.08,340.68 194.25,340.77 194.43,340.85 194.60,340.91 194.77,340.97 194.94,341.01 195.11,341.05 195.28,341.09 195.45,341.12 195.62,341.15" fill="none" stroke="#861838" stroke-width="1.95" stroke-linejoin="round" stroke-linecap="round"/>
<text stroke="#333" stroke-width="0.22" x="263.93" y="256.00" font-size="8.2" fill="#333" text-anchor="middle">304</text>
<text stroke="#555" stroke-width="0.22" x="222.00" y="351.10" font-size="6.4" fill="#555" text-anchor="middle">30</text>
<text stroke="#555" stroke-width="0.22" x="238.88" y="351.10" font-size="6.4" fill="#555" text-anchor="middle">35</text>
<text stroke="#555" stroke-width="0.22" x="255.75" y="351.10" font-size="6.4" fill="#555" text-anchor="middle">40</text>
<text stroke="#555" stroke-width="0.22" x="272.62" y="351.10" font-size="6.4" fill="#555" text-anchor="middle">45</text>
<text stroke="#555" stroke-width="0.22" x="289.50" y="351.10" font-size="6.4" fill="#555" text-anchor="middle">50</text>
<text stroke="#555" stroke-width="0.22" x="306.38" y="351.10" font-size="6.4" fill="#555" text-anchor="middle">55</text>
<polyline points="228.07,341.01 228.25,340.96 228.42,340.91 228.59,340.85 228.76,340.78 228.94,340.70 229.11,340.61 229.28,340.49 229.45,340.35 229.62,340.18 229.80,339.96 229.97,339.68 230.14,339.33 230.31,338.89 230.48,338.36 230.66,337.74 230.83,337.02 231.00,336.22 231.17,335.37 231.35,334.51 231.52,333.67 231.69,332.91 231.86,332.29 232.03,331.84 232.21,331.61 232.38,331.61 232.55,331.84 232.72,332.28 232.89,332.90 233.07,333.66 233.24,334.49 233.41,335.36 233.58,336.21 233.76,337.01 233.93,337.73 234.10,338.35 234.27,338.88 234.44,339.32 234.62,339.67 234.79,339.95 234.96,340.17 235.13,340.34 235.30,340.48 235.48,340.59 235.65,340.69 235.82,340.76 235.99,340.83 236.16,340.88 236.34,340.93 236.51,340.97 236.68,341.00 236.85,341.03 237.03,341.05 237.20,341.07 237.37,341.08 237.54,341.08 237.71,341.08 237.89,341.08 238.06,341.07 238.23,341.06 238.40,341.04 238.57,341.02 238.75,340.98 238.92,340.95 239.09,340.90 239.26,340.84 239.44,340.76 239.61,340.67 239.78,340.55 239.95,340.39 240.12,340.20 240.30,339.97 240.47,339.69 240.64,339.37 240.81,339.00 240.98,338.61 241.16,338.19 241.33,337.77 241.50,337.37 241.67,337.02 241.84,336.74 242.02,336.54 242.19,336.45 242.36,336.46 242.53,336.59 242.71,336.81 242.88,337.12 243.05,337.49 243.22,337.89 243.39,338.31 243.57,338.72 243.74,339.11 243.91,339.47 244.08,339.77 244.25,340.04 244.43,340.26 244.60,340.43 244.77,340.57 244.94,340.68 245.12,340.77 245.29,340.83 245.46,340.88 245.63,340.91 245.80,340.93 245.98,340.94 246.15,340.95 246.32,340.94 246.49,340.92 246.66,340.89 246.84,340.84 247.01,340.79 247.18,340.72 247.35,340.63 247.53,340.52 247.70,340.39 247.87,340.25 248.04,340.08 248.21,339.88 248.39,339.66 248.56,339.41 248.73,339.12 248.90,338.78 249.07,338.39 249.25,337.92 249.42,337.34 249.59,336.63 249.76,335.72 249.93,334.56 250.11,333.09 250.28,331.24 250.45,328.94 250.62,326.16 250.80,322.90 250.97,319.19 251.14,315.14 251.31,310.91 251.48,306.71 251.66,302.81 251.83,299.48 252.00,296.97 252.17,295.48 252.34,295.14 252.52,295.98 252.69,297.92 252.86,300.80 253.03,304.40 253.21,308.44 253.38,312.66 253.55,316.81 253.72,320.70 253.89,324.19 254.07,327.20 254.24,329.71 254.41,331.74 254.58,333.34 254.75,334.57 254.93,335.49 255.10,336.17 255.27,336.66 255.44,337.00 255.62,337.22 255.79,337.34 255.96,337.37 256.13,337.30 256.30,337.15 256.48,336.89 256.65,336.51 256.82,335.99 256.99,335.29 257.16,334.38 257.34,333.21 257.51,331.75 257.68,329.98 257.85,327.87 258.02,325.46 258.20,322.80 258.37,319.99 258.54,317.16 258.71,314.48 258.89,312.11 259.06,310.20 259.23,308.87 259.40,308.18 259.57,308.13 259.75,308.67 259.92,309.67 260.09,310.99 260.26,312.50 260.43,314.03 260.61,315.49 260.78,316.79 260.95,317.90 261.12,318.81 261.30,319.53 261.47,320.12 261.64,320.61 261.81,321.03 261.98,321.44 262.16,321.85 262.33,322.28 262.50,322.75 262.67,323.26 262.84,323.81 263.02,324.40 263.19,325.01 263.36,325.65 263.53,326.30 263.70,326.95 263.88,327.61 264.05,328.24 264.22,328.87 264.39,329.46 264.57,330.03 264.74,330.56 264.91,331.07 265.08,331.54 265.25,331.98 265.43,332.39 265.60,332.77 265.77,333.13 265.94,333.47 266.11,333.80 266.29,334.11 266.46,334.42 266.63,334.71 266.80,335.00 266.98,335.28 267.15,335.54 267.32,335.80 267.49,336.03 267.66,336.23 267.84,336.41 268.01,336.54 268.18,336.63 268.35,336.68 268.52,336.66 268.70,336.58 268.87,336.43 269.04,336.20 269.21,335.87 269.38,335.43 269.56,334.85 269.73,334.08 269.90,333.07 270.07,331.75 270.25,330.02 270.42,327.78 270.59,324.90 270.76,321.27 270.93,316.81 271.11,311.48 271.28,305.32 271.45,298.47 271.62,291.16 271.79,283.73 271.97,276.62 272.14,270.30 272.31,265.23 272.48,261.82 272.66,260.34 272.83,260.93 273.00,263.54 273.17,267.95 273.34,273.79 273.52,280.63 273.69,287.98 273.86,295.41 274.03,302.51 274.20,309.02 274.38,314.74 274.55,319.61 274.72,323.64 274.89,326.88 275.07,329.46 275.24,331.48 275.41,333.06 275.58,334.30 275.75,335.28 275.93,336.08 276.10,336.73 276.27,337.27 276.44,337.72 276.61,338.08 276.79,338.37 276.96,338.58 277.13,338.72 277.30,338.78 277.47,338.76 277.65,338.66 277.82,338.46 277.99,338.17 278.16,337.78 278.34,337.27 278.51,336.66 278.68,335.92 278.85,335.06 279.02,334.07 279.20,332.94 279.37,331.68 279.54,330.29 279.71,328.78 279.88,327.14 280.06,325.38 280.23,323.53 280.40,321.60 280.57,319.61 280.75,317.57 280.92,315.53 281.09,313.49 281.26,311.50 281.43,309.58 281.61,307.76 281.78,306.07 281.95,304.54 282.12,303.18 282.29,302.02 282.47,301.07 282.64,300.33 282.81,299.80 282.98,299.45 283.16,299.24 283.33,299.13 283.50,299.04 283.67,298.84 283.84,298.43 284.02,297.65 284.19,296.36 284.36,294.44 284.53,291.82 284.70,288.49 284.88,284.55 285.05,280.21 285.22,275.79 285.39,271.70 285.56,268.37 285.74,266.24 285.91,265.63 286.08,266.75 286.25,269.61 286.43,274.08 286.60,279.83 286.77,286.47 286.94,293.54 287.11,300.59 287.29,307.26 287.46,313.28 287.63,318.49 287.80,322.85 287.97,326.37 288.15,329.15 288.32,331.29 288.49,332.92 288.66,334.16 288.84,335.09 289.01,335.79 289.18,336.32 289.35,336.71 289.52,336.99 289.70,337.16 289.87,337.23 290.04,337.20 290.21,337.03 290.38,336.72 290.56,336.22 290.73,335.48 290.90,334.44 291.07,333.05 291.24,331.26 291.42,329.05 291.59,326.42 291.76,323.44 291.93,320.21 292.11,316.92 292.28,313.77 292.45,311.02 292.62,308.90 292.79,307.60 292.97,307.26 293.14,307.89 293.31,309.45 293.48,311.80 293.65,314.71 293.83,317.95 294.00,321.29 294.17,324.51 294.34,327.47 294.52,330.06 294.69,332.25 294.86,334.03 295.03,335.45 295.20,336.55 295.38,337.41 295.55,338.07 295.72,338.58 295.89,338.99 296.06,339.33 296.24,339.62 296.41,339.86 296.58,340.07 296.75,340.25 296.93,340.41" fill="none" stroke="#861838" stroke-width="1.95" stroke-linejoin="round" stroke-linecap="round"/>
<text stroke="#333" stroke-width="0.22" x="365.12" y="256.00" font-size="8.2" fill="#333" text-anchor="middle">305</text>
<text stroke="#555" stroke-width="0.22" x="323.20" y="351.10" font-size="6.4" fill="#555" text-anchor="middle">30</text>
<text stroke="#555" stroke-width="0.22" x="340.07" y="351.10" font-size="6.4" fill="#555" text-anchor="middle">35</text>
<text stroke="#555" stroke-width="0.22" x="356.95" y="351.10" font-size="6.4" fill="#555" text-anchor="middle">40</text>
<text stroke="#555" stroke-width="0.22" x="373.82" y="351.10" font-size="6.4" fill="#555" text-anchor="middle">45</text>
<text stroke="#555" stroke-width="0.22" x="390.70" y="351.10" font-size="6.4" fill="#555" text-anchor="middle">50</text>
<text stroke="#555" stroke-width="0.22" x="407.57" y="351.10" font-size="6.4" fill="#555" text-anchor="middle">55</text>
<polyline points="325.56,341.30 325.74,341.30 325.93,341.30 326.11,341.30 326.29,341.29 326.47,341.29 326.65,341.29 326.84,341.29 327.02,341.29 327.20,341.28 327.38,341.28 327.56,341.27 327.74,341.27 327.93,341.26 328.11,341.25 328.29,341.24 328.47,341.23 328.65,341.22 328.84,341.20 329.02,341.19 329.20,341.17 329.38,341.15 329.56,341.12 329.74,341.09 329.93,341.06 330.11,341.02 330.29,340.98 330.47,340.93 330.65,340.86 330.84,340.78 331.02,340.68 331.20,340.55 331.38,340.38 331.56,340.17 331.74,339.92 331.93,339.61 332.11,339.26 332.29,338.86 332.47,338.43 332.65,337.98 332.84,337.55 333.02,337.15 333.20,336.82 333.38,336.59 333.56,336.46 333.74,336.45 333.93,336.57 334.11,336.80 334.29,337.12 334.47,337.51 334.65,337.94 334.84,338.38 335.02,338.82 335.20,339.22 335.38,339.58 335.56,339.89 335.74,340.15 335.93,340.36 336.11,340.53 336.29,340.66 336.47,340.76 336.65,340.84 336.84,340.91 337.02,340.95 337.20,340.99 337.38,341.03 337.56,341.05 337.74,341.07 337.93,341.08 338.11,341.09 338.29,341.09 338.47,341.09 338.65,341.08 338.84,341.07 339.02,341.05 339.20,341.02 339.38,340.99 339.56,340.95 339.75,340.90 339.93,340.84 340.11,340.77 340.29,340.69 340.47,340.59 340.65,340.46 340.84,340.29 341.02,340.08 341.20,339.80 341.38,339.45 341.56,339.00 341.75,338.45 341.93,337.79 342.11,337.04 342.29,336.21 342.47,335.35 342.65,334.50 342.84,333.72 343.02,333.08 343.20,332.63 343.38,332.41 343.56,332.44 343.75,332.72 343.93,333.22 344.11,333.90 344.29,334.70 344.47,335.56 344.65,336.42 344.84,337.23 345.02,337.96 345.20,338.59 345.38,339.11 345.56,339.53 345.75,339.87 345.93,340.12 346.11,340.32 346.29,340.46 346.47,340.58 346.65,340.66 346.84,340.72 347.02,340.77 347.20,340.79 347.38,340.81 347.56,340.80 347.75,340.78 347.93,340.74 348.11,340.68 348.29,340.59 348.47,340.49 348.65,340.35 348.84,340.19 349.02,339.99 349.20,339.76 349.38,339.49 349.56,339.17 349.75,338.82 349.93,338.41 350.11,337.93 350.29,337.38 350.47,336.72 350.65,335.92 350.84,334.92 351.02,333.64 351.20,332.00 351.38,329.89 351.56,327.17 351.75,323.74 351.93,319.53 352.11,314.50 352.29,308.72 352.47,302.35 352.65,295.69 352.84,289.10 353.02,283.06 353.20,278.03 353.38,274.44 353.56,272.63 353.75,272.77 353.93,274.84 354.11,278.64 354.29,283.84 354.47,289.98 354.65,296.60 354.84,303.25 355.02,309.55 355.20,315.23 355.38,320.15 355.56,324.25 355.75,327.57 355.93,330.20 356.11,332.24 356.29,333.82 356.47,335.05 356.66,336.01 356.84,336.78 357.02,337.41 357.20,337.94 357.38,338.39 357.56,338.77 357.75,339.09 357.93,339.37 358.11,339.59 358.29,339.77 358.47,339.91 358.66,340.00 358.84,340.06 359.02,340.07 359.20,340.05 359.38,339.99 359.56,339.89 359.75,339.75 359.93,339.57 360.11,339.35 360.29,339.09 360.47,338.76 360.66,338.35 360.84,337.84 361.02,337.19 361.20,336.34 361.38,335.24 361.56,333.83 361.75,332.03 361.93,329.79 362.11,327.10 362.29,323.96 362.47,320.46 362.66,316.73 362.84,312.97 363.02,309.43 363.20,306.38 363.38,304.08 363.56,302.73 363.75,302.46 363.93,303.29 364.11,305.15 364.29,307.86 364.47,311.19 364.66,314.88 364.84,318.65 365.02,322.28 365.20,325.61 365.38,328.53 365.56,330.99 365.75,333.00 365.93,334.60 366.11,335.84 366.29,336.81 366.47,337.55 366.66,338.13 366.84,338.58 367.02,338.95 367.20,339.25 367.38,339.50 367.56,339.70 367.75,339.86 367.93,339.98 368.11,340.07 368.29,340.12 368.47,340.13 368.66,340.11 368.84,340.04 369.02,339.93 369.20,339.78 369.38,339.58 369.56,339.34 369.75,339.04 369.93,338.69 370.11,338.29 370.29,337.81 370.47,337.26 370.66,336.61 370.84,335.83 371.02,334.87 371.20,333.68 371.38,332.16 371.57,330.19 371.75,327.66 371.93,324.40 372.11,320.31 372.29,315.28 372.47,309.29 372.66,302.43 372.84,294.90 373.02,287.05 373.20,279.34 373.38,272.29 373.57,266.49 373.75,262.41 373.93,260.45 374.11,260.78 374.29,263.37 374.47,267.99 374.66,274.20 374.84,281.49 375.02,289.30 375.20,297.10 375.38,304.47 375.57,311.09 375.75,316.81 375.93,321.57 376.11,325.41 376.29,328.45 376.47,330.81 376.66,332.64 376.84,334.06 377.02,335.18 377.20,336.08 377.38,336.82 377.57,337.45 377.75,337.98 377.93,338.45 378.11,338.85 378.29,339.20 378.47,339.50 378.66,339.75 378.84,339.96 379.02,340.13 379.20,340.26 379.38,340.36 379.57,340.43 379.75,340.46 379.93,340.47 380.11,340.46 380.29,340.41 380.47,340.34 380.66,340.25 380.84,340.12 381.02,339.95 381.20,339.74 381.38,339.46 381.57,339.09 381.75,338.61 381.93,337.98 382.11,337.18 382.29,336.18 382.47,334.95 382.66,333.50 382.84,331.84 383.02,330.04 383.20,328.17 383.38,326.33 383.57,324.64 383.75,323.23 383.93,322.19 384.11,321.59 384.29,321.45 384.47,321.76 384.66,322.45 384.84,323.42 385.02,324.57 385.20,325.78 385.38,326.94 385.57,328.00 385.75,328.89 385.93,329.61 386.11,330.17 386.29,330.59 386.47,330.91 386.66,331.18 386.84,331.43 387.02,331.68 387.20,331.97 387.38,332.31 387.57,332.70 387.75,333.14 387.93,333.63 388.11,334.16 388.29,334.72 388.48,335.28 388.66,335.85 388.84,336.41 389.02,336.93 389.20,337.43 389.38,337.88 389.57,338.28 389.75,338.63 389.93,338.92 390.11,339.15 390.29,339.32 390.48,339.43 390.66,339.49 390.84,339.49 391.02,339.44 391.20,339.32 391.38,339.13 391.57,338.85 391.75,338.47 391.93,337.94 392.11,337.24 392.29,336.33 392.48,335.16 392.66,333.70 392.84,331.94 393.02,329.89 393.20,327.62 393.38,325.20 393.57,322.78 393.75,320.52 393.93,318.59 394.11,317.15 394.29,316.34 394.48,316.23 394.66,316.83 394.84,318.09 395.02,319.88 395.20,322.06 395.38,324.46 395.57,326.89 395.75,329.22 395.93,331.35 396.11,333.21 396.29,334.78 396.48,336.05 396.66,337.06 396.84,337.85 397.02,338.46 397.20,338.94 397.38,339.31 397.57,339.61 397.75,339.85 397.93,340.06 398.11,340.24 398.29,340.39" fill="none" stroke="#861838" stroke-width="1.95" stroke-linejoin="round" stroke-linecap="round"/>
<text stroke="#333" stroke-width="0.22" x="466.62" y="256.00" font-size="8.2" fill="#333" text-anchor="middle">306</text>
<text stroke="#555" stroke-width="0.22" x="424.70" y="351.10" font-size="6.4" fill="#555" text-anchor="middle">30</text>
<text stroke="#555" stroke-width="0.22" x="441.57" y="351.10" font-size="6.4" fill="#555" text-anchor="middle">35</text>
<text stroke="#555" stroke-width="0.22" x="458.45" y="351.10" font-size="6.4" fill="#555" text-anchor="middle">40</text>
<text stroke="#555" stroke-width="0.22" x="475.32" y="351.10" font-size="6.4" fill="#555" text-anchor="middle">45</text>
<text stroke="#555" stroke-width="0.22" x="492.20" y="351.10" font-size="6.4" fill="#555" text-anchor="middle">50</text>
<text stroke="#555" stroke-width="0.22" x="509.07" y="351.10" font-size="6.4" fill="#555" text-anchor="middle">55</text>
<polyline points="430.44,341.08 430.61,341.04 430.78,341.00 430.95,340.96 431.13,340.91 431.30,340.85 431.47,340.78 431.64,340.70 431.81,340.61 431.99,340.49 432.16,340.33 432.33,340.15 432.50,339.91 432.68,339.61 432.85,339.25 433.02,338.82 433.19,338.32 433.36,337.75 433.54,337.12 433.71,336.46 433.88,335.80 434.05,335.16 434.22,334.59 434.40,334.13 434.57,333.80 434.74,333.63 434.91,333.63 435.08,333.80 435.26,334.14 435.43,334.61 435.60,335.18 435.77,335.81 435.95,336.48 436.12,337.14 436.29,337.76 436.46,338.33 436.63,338.83 436.81,339.26 436.98,339.62 437.15,339.91 437.32,340.15 437.49,340.34 437.67,340.49 437.84,340.60 438.01,340.70 438.18,340.78 438.36,340.85 438.53,340.90 438.70,340.95 438.87,340.99 439.04,341.03 439.22,341.06 439.39,341.08 439.56,341.11 439.73,341.13 439.90,341.14 440.08,341.15 440.25,341.16 440.42,341.17 440.59,341.17 440.76,341.17 440.94,341.16 441.11,341.16 441.28,341.15 441.45,341.13 441.63,341.12 441.80,341.09 441.97,341.06 442.14,341.03 442.31,340.98 442.49,340.92 442.66,340.84 442.83,340.75 443.00,340.63 443.17,340.49 443.35,340.33 443.52,340.14 443.69,339.94 443.86,339.74 444.04,339.53 444.21,339.33 444.38,339.15 444.55,339.01 444.72,338.92 444.90,338.87 445.07,338.88 445.24,338.95 445.41,339.06 445.58,339.21 445.76,339.40 445.93,339.60 446.10,339.81 446.27,340.02 446.45,340.21 446.62,340.39 446.79,340.54 446.96,340.67 447.13,340.78 447.31,340.86 447.48,340.93 447.65,340.98 447.82,341.02 447.99,341.04 448.17,341.06 448.34,341.07 448.51,341.08 448.68,341.07 448.85,341.06 449.03,341.04 449.20,341.01 449.37,340.98 449.54,340.93 449.72,340.88 449.89,340.81 450.06,340.73 450.23,340.64 450.40,340.53 450.58,340.41 450.75,340.27 450.92,340.11 451.09,339.92 451.26,339.71 451.44,339.47 451.61,339.18 451.78,338.82 451.95,338.38 452.13,337.83 452.30,337.13 452.47,336.24 452.64,335.11 452.81,333.70 452.99,331.98 453.16,329.92 453.33,327.56 453.50,324.94 453.67,322.15 453.85,319.33 454.02,316.63 454.19,314.24 454.36,312.33 454.54,311.06 454.71,310.53 454.88,310.79 455.05,311.81 455.22,313.50 455.40,315.74 455.57,318.35 455.74,321.15 455.91,323.97 456.08,326.66 456.26,329.12 456.43,331.28 456.60,333.12 456.77,334.63 456.94,335.85 457.12,336.82 457.29,337.57 457.46,338.16 457.63,338.62 457.81,338.98 457.98,339.27 458.15,339.50 458.32,339.69 458.49,339.84 458.67,339.96 458.84,340.04 459.01,340.09 459.18,340.11 459.35,340.10 459.53,340.05 459.70,339.97 459.87,339.85 460.04,339.69 460.22,339.48 460.39,339.24 460.56,338.95 460.73,338.61 460.90,338.21 461.08,337.76 461.25,337.23 461.42,336.61 461.59,335.88 461.76,335.00 461.94,333.91 462.11,332.54 462.28,330.80 462.45,328.59 462.62,325.77 462.80,322.24 462.97,317.90 463.14,312.71 463.31,306.68 463.49,299.92 463.66,292.66 463.83,285.21 464.00,278.00 464.17,271.47 464.35,266.12 464.52,262.35 464.69,260.48 464.86,260.66 465.03,262.88 465.21,266.96 465.38,272.55 465.55,279.23 465.72,286.52 465.90,293.97 466.07,301.16 466.24,307.80 466.41,313.69 466.58,318.73 466.76,322.92 466.93,326.31 467.10,329.01 467.27,331.14 467.44,332.80 467.62,334.11 467.79,335.16 467.96,336.00 468.13,336.71 468.31,337.30 468.48,337.80 468.65,338.23 468.82,338.60 468.99,338.91 469.17,339.17 469.34,339.37 469.51,339.53 469.68,339.64 469.85,339.69 470.03,339.70 470.20,339.66 470.37,339.57 470.54,339.43 470.71,339.25 470.89,339.01 471.06,338.71 471.23,338.37 471.40,337.96 471.58,337.49 471.75,336.93 471.92,336.27 472.09,335.47 472.26,334.50 472.44,333.27 472.61,331.73 472.78,329.75 472.95,327.24 473.12,324.07 473.30,320.14 473.47,315.38 473.64,309.78 473.81,303.42 473.99,296.47 474.16,289.19 474.33,281.98 474.50,275.26 474.67,269.51 474.85,265.17 475.02,262.58 475.19,261.96 475.36,263.37 475.53,266.68 475.71,271.63 475.88,277.81 476.05,284.78 476.22,292.06 476.39,299.25 476.57,306.00 476.74,312.08 476.91,317.35 477.08,321.78 477.26,325.40 477.43,328.31 477.60,330.60 477.77,332.40 477.94,333.81 478.12,334.94 478.29,335.85 478.46,336.60 478.63,337.23 478.80,337.78 478.98,338.25 479.15,338.67 479.32,339.04 479.49,339.36 479.67,339.64 479.84,339.89 480.01,340.10 480.18,340.28 480.35,340.44 480.53,340.56 480.70,340.67 480.87,340.75 481.04,340.81 481.21,340.86 481.39,340.89 481.56,340.91 481.73,340.92 481.90,340.91 482.07,340.89 482.25,340.86 482.42,340.82 482.59,340.76 482.76,340.67 482.94,340.56 483.11,340.42 483.28,340.25 483.45,340.03 483.62,339.76 483.80,339.45 483.97,339.10 484.14,338.71 484.31,338.29 484.48,337.87 484.66,337.47 484.83,337.10 485.00,336.80 485.17,336.58 485.35,336.46 485.52,336.45 485.69,336.55 485.86,336.75 486.03,337.03 486.21,337.39 486.38,337.79 486.55,338.20 486.72,338.62 486.89,339.02 487.07,339.38 487.24,339.70 487.41,339.98 487.58,340.21 487.76,340.40 487.93,340.55 488.10,340.67 488.27,340.77 488.44,340.84 488.62,340.90 488.79,340.95 488.96,340.99 489.13,341.02 489.30,341.04 489.48,341.06 489.65,341.08 489.82,341.09 489.99,341.09 490.16,341.09 490.34,341.09 490.51,341.08 490.68,341.07 490.85,341.05 491.03,341.03 491.20,341.00 491.37,340.97 491.54,340.93 491.71,340.88 491.89,340.83 492.06,340.76 492.23,340.69 492.40,340.59 492.57,340.48 492.75,340.34 492.92,340.17 493.09,339.95 493.26,339.67 493.44,339.32 493.61,338.90 493.78,338.40 493.95,337.81 494.12,337.15 494.30,336.42 494.47,335.66 494.64,334.89 494.81,334.15 494.98,333.50 495.16,332.97 495.33,332.60 495.50,332.41 495.67,332.42 495.84,332.64 496.02,333.03 496.19,333.58 496.36,334.25 496.53,334.99 496.71,335.76 496.88,336.52 497.05,337.24 497.22,337.90 497.39,338.47 497.57,338.97 497.74,339.38 497.91,339.71 498.08,339.98 498.25,340.20 498.43,340.37 498.60,340.51 498.77,340.62 498.94,340.71 499.12,340.79 499.29,340.85" fill="none" stroke="#861838" stroke-width="1.95" stroke-linejoin="round" stroke-linecap="round"/>
<text stroke="#333" stroke-width="0.22" x="61.62" y="365.60" font-size="8.2" fill="#333" text-anchor="middle">401</text>
<text stroke="#555" stroke-width="0.22" x="19.70" y="460.10" font-size="6.4" fill="#555" text-anchor="middle">30</text>
<text stroke="#555" stroke-width="0.22" x="36.58" y="460.10" font-size="6.4" fill="#555" text-anchor="middle">35</text>
<text stroke="#555" stroke-width="0.22" x="53.45" y="460.10" font-size="6.4" fill="#555" text-anchor="middle">40</text>
<text stroke="#555" stroke-width="0.22" x="70.33" y="460.10" font-size="6.4" fill="#555" text-anchor="middle">45</text>
<text stroke="#555" stroke-width="0.22" x="87.20" y="460.10" font-size="6.4" fill="#555" text-anchor="middle">50</text>
<text stroke="#555" stroke-width="0.22" x="104.08" y="460.10" font-size="6.4" fill="#555" text-anchor="middle">55</text>
<polyline points="32.19,449.33 32.34,449.18 32.50,449.01 32.66,448.81 32.81,448.59 32.97,448.34 33.12,448.06 33.28,447.76 33.44,447.43 33.59,447.07 33.75,446.70 33.90,446.30 34.06,445.88 34.22,445.45 34.37,445.01 34.53,444.57 34.69,444.13 34.84,443.70 35.00,443.28 35.15,442.89 35.31,442.52 35.47,442.18 35.62,441.88 35.78,441.63 35.93,441.41 36.09,441.24 36.25,441.12 36.40,441.03 36.56,440.99 36.71,440.96 36.87,440.96 37.03,440.96 37.18,440.95 37.34,440.92 37.49,440.85 37.65,440.72 37.81,440.52 37.96,440.24 38.12,439.88 38.28,439.44 38.43,438.93 38.59,438.37 38.74,437.79 38.90,437.21 39.06,436.67 39.21,436.20 39.37,435.86 39.52,435.66 39.68,435.63 39.84,435.79 39.99,436.13 40.15,436.64 40.30,437.31 40.46,438.10 40.62,438.97 40.77,439.90 40.93,440.83 41.08,441.73 41.24,442.56 41.40,443.31 41.55,443.95 41.71,444.47 41.87,444.86 42.02,445.13 42.18,445.28 42.33,445.31 42.49,445.25 42.65,445.08 42.80,444.84 42.96,444.52 43.11,444.13 43.27,443.69 43.43,443.20 43.58,442.67 43.74,442.11 43.89,441.53 44.05,440.93 44.21,440.32 44.36,439.71 44.52,439.11 44.68,438.53 44.83,437.97 44.99,437.44 45.14,436.96 45.30,436.52 45.46,436.13 45.61,435.80 45.77,435.54 45.92,435.33 46.08,435.19 46.24,435.11 46.39,435.08 46.55,435.10 46.70,435.16 46.86,435.25 47.02,435.33 47.17,435.38 47.33,435.36 47.48,435.24 47.64,434.96 47.80,434.49 47.95,433.76 48.11,432.75 48.27,431.44 48.42,429.84 48.58,427.98 48.73,425.95 48.89,423.85 49.05,421.83 49.20,420.04 49.36,418.63 49.51,417.74 49.67,417.47 49.83,417.88 49.98,418.96 50.14,420.66 50.29,422.86 50.45,425.43 50.61,428.21 50.76,431.05 50.92,433.81 51.07,436.38 51.23,438.68 51.39,440.69 51.54,442.38 51.70,443.77 51.86,444.90 52.01,445.79 52.17,446.50 52.32,447.06 52.48,447.51 52.64,447.87 52.79,448.17 52.95,448.41 53.10,448.62 53.26,448.79 53.42,448.94 53.57,449.06 53.73,449.16 53.88,449.24 54.04,449.30 54.20,449.33 54.35,449.35 54.51,449.35 54.66,449.32 54.82,449.27 54.98,449.20 55.13,449.11 55.29,448.99 55.45,448.85 55.60,448.68 55.76,448.49 55.91,448.26 56.07,448.01 56.23,447.72 56.38,447.39 56.54,447.02 56.69,446.59 56.85,446.10 57.01,445.51 57.16,444.80 57.32,443.93 57.47,442.85 57.63,441.51 57.79,439.84 57.94,437.77 58.10,435.25 58.26,432.22 58.41,428.66 58.57,424.58 58.72,420.05 58.88,415.17 59.04,410.11 59.19,405.10 59.35,400.38 59.50,396.22 59.66,392.87 59.82,390.56 59.97,389.44 60.13,389.60 60.28,391.01 60.44,393.59 60.60,397.16 60.75,401.48 60.91,406.30 61.06,411.35 61.22,416.38 61.38,421.18 61.53,425.61 61.69,429.57 61.85,433.00 62.00,435.90 62.16,438.30 62.31,440.26 62.47,441.84 62.63,443.10 62.78,444.11 62.94,444.92 63.09,445.59 63.25,446.13 63.41,446.59 63.56,446.98 63.72,447.30 63.87,447.58 64.03,447.82 64.19,448.01 64.34,448.16 64.50,448.28 64.66,448.35 64.81,448.39 64.97,448.39 65.12,448.34 65.28,448.26 65.44,448.14 65.59,447.98 65.75,447.77 65.90,447.52 66.06,447.22 66.22,446.88 66.37,446.48 66.53,446.01 66.68,445.48 66.84,444.85 67.00,444.11 67.15,443.21 67.31,442.11 67.46,440.75 67.62,439.05 67.78,436.93 67.93,434.30 68.09,431.07 68.25,427.19 68.40,422.59 68.56,417.30 68.71,411.38 68.87,404.96 69.03,398.25 69.18,391.52 69.34,385.11 69.49,379.37 69.65,374.65 69.81,371.25 69.96,369.40 70.12,369.24 70.27,370.77 70.43,373.90 70.59,378.39 70.74,383.97 70.90,390.28 71.05,396.97 71.21,403.70 71.37,410.20 71.52,416.23 71.68,421.65 71.84,426.37 71.99,430.39 72.15,433.74 72.30,436.48 72.46,438.69 72.62,440.46 72.77,441.89 72.93,443.03 73.08,443.97 73.24,444.75 73.40,445.40 73.55,445.96 73.71,446.44 73.86,446.86 74.02,447.23 74.18,447.55 74.33,447.83 74.49,448.06 74.65,448.25 74.80,448.41 74.96,448.53 75.11,448.61 75.27,448.66 75.43,448.67 75.58,448.64 75.74,448.59 75.89,448.50 76.05,448.37 76.21,448.21 76.36,448.02 76.52,447.79 76.67,447.52 76.83,447.20 76.99,446.83 77.14,446.39 77.30,445.85 77.45,445.20 77.61,444.40 77.77,443.40 77.92,442.16 78.08,440.60 78.24,438.68 78.39,436.35 78.55,433.56 78.70,430.30 78.86,426.60 79.02,422.52 79.17,418.16 79.33,413.71 79.48,409.34 79.64,405.30 79.80,401.81 79.95,399.09 80.11,397.33 80.26,396.65 80.42,397.09 80.58,398.62 80.73,401.15 80.89,404.49 81.04,408.43 81.20,412.75 81.36,417.20 81.51,421.59 81.67,425.75 81.83,429.54 81.98,432.90 82.14,435.79 82.29,438.22 82.45,440.23 82.61,441.86 82.76,443.18 82.92,444.23 83.07,445.08 83.23,445.76 83.39,446.33 83.54,446.81 83.70,447.21 83.85,447.56 84.01,447.87 84.17,448.14 84.32,448.38 84.48,448.59 84.64,448.78 84.79,448.94 84.95,449.09 85.10,449.21 85.26,449.32 85.42,449.41 85.57,449.48 85.73,449.53 85.88,449.58 86.04,449.61 86.20,449.63 86.35,449.64 86.51,449.63 86.66,449.62 86.82,449.60 86.98,449.56 87.13,449.51 87.29,449.45 87.44,449.37 87.60,449.27 87.76,449.15 87.91,448.99 88.07,448.79 88.23,448.55 88.38,448.25 88.54,447.90 88.69,447.50 88.85,447.04 89.01,446.53 89.16,445.98 89.32,445.41 89.47,444.84 89.63,444.30 89.79,443.80 89.94,443.39 90.10,443.07 90.25,442.87 90.41,442.81 90.57,442.88 90.72,443.08 90.88,443.41 91.03,443.83 91.19,444.33 91.35,444.87 91.50,445.45 91.66,446.01 91.82,446.56 91.97,447.07 92.13,447.53 92.28,447.93 92.44,448.28 92.60,448.57 92.75,448.82 92.91,449.01 93.06,449.18 93.22,449.31 93.38,449.42 93.53,449.51 93.69,449.58 93.84,449.64 94.00,449.70 94.16,449.74 94.31,449.79 94.47,449.82 94.63,449.86" fill="none" stroke="#861838" stroke-width="1.95" stroke-linejoin="round" stroke-linecap="round"/>
<text stroke="#333" stroke-width="0.22" x="162.62" y="365.60" font-size="8.2" fill="#333" text-anchor="middle">402</text>
<text stroke="#555" stroke-width="0.22" x="120.70" y="460.10" font-size="6.4" fill="#555" text-anchor="middle">30</text>
<text stroke="#555" stroke-width="0.22" x="137.57" y="460.10" font-size="6.4" fill="#555" text-anchor="middle">35</text>
<text stroke="#555" stroke-width="0.22" x="154.45" y="460.10" font-size="6.4" fill="#555" text-anchor="middle">40</text>
<text stroke="#555" stroke-width="0.22" x="171.32" y="460.10" font-size="6.4" fill="#555" text-anchor="middle">45</text>
<text stroke="#555" stroke-width="0.22" x="188.20" y="460.10" font-size="6.4" fill="#555" text-anchor="middle">50</text>
<text stroke="#555" stroke-width="0.22" x="205.07" y="460.10" font-size="6.4" fill="#555" text-anchor="middle">55</text>
<polyline points="122.73,450.10 122.91,450.10 123.09,450.10 123.27,450.09 123.46,450.09 123.64,450.09 123.82,450.08 124.01,450.08 124.19,450.07 124.37,450.07 124.56,450.06 124.74,450.04 124.92,450.03 125.11,450.01 125.29,449.99 125.47,449.96 125.65,449.93 125.84,449.90 126.02,449.85 126.20,449.80 126.39,449.75 126.57,449.68 126.75,449.60 126.94,449.52 127.12,449.42 127.30,449.30 127.49,449.17 127.67,449.01 127.85,448.82 128.03,448.58 128.22,448.27 128.40,447.87 128.58,447.35 128.77,446.69 128.95,445.86 129.13,444.84 129.32,443.62 129.50,442.23 129.68,440.71 129.87,439.12 130.05,437.58 130.23,436.18 130.41,435.04 130.60,434.26 130.78,433.91 130.96,434.04 131.15,434.61 131.33,435.59 131.51,436.88 131.70,438.37 131.88,439.95 132.06,441.51 132.25,442.97 132.43,444.27 132.61,445.39 132.80,446.31 132.98,447.05 133.16,447.63 133.34,448.07 133.53,448.42 133.71,448.68 133.89,448.89 134.08,449.05 134.26,449.18 134.44,449.28 134.63,449.36 134.81,449.43 134.99,449.47 135.18,449.49 135.36,449.50 135.54,449.49 135.72,449.46 135.91,449.40 136.09,449.32 136.27,449.22 136.46,449.10 136.64,448.94 136.82,448.76 137.01,448.55 137.19,448.30 137.37,448.02 137.56,447.68 137.74,447.28 137.92,446.80 138.10,446.19 138.29,445.42 138.47,444.42 138.65,443.14 138.84,441.48 139.02,439.37 139.20,436.77 139.39,433.64 139.57,430.02 139.75,425.99 139.94,421.74 140.12,417.51 140.30,413.58 140.49,410.26 140.67,407.84 140.85,406.54 141.03,406.49 141.22,407.70 141.40,410.03 141.58,413.29 141.77,417.18 141.95,421.41 142.13,425.66 142.32,429.71 142.50,433.37 142.68,436.54 142.87,439.18 143.05,441.32 143.23,443.00 143.41,444.31 143.60,445.32 143.78,446.10 143.96,446.70 144.15,447.18 144.33,447.57 144.51,447.88 144.70,448.14 144.88,448.35 145.06,448.52 145.25,448.64 145.43,448.73 145.61,448.77 145.79,448.77 145.98,448.73 146.16,448.64 146.34,448.51 146.53,448.33 146.71,448.11 146.89,447.83 147.08,447.50 147.26,447.11 147.44,446.65 147.63,446.11 147.81,445.46 147.99,444.67 148.18,443.67 148.36,442.40 148.54,440.77 148.72,438.64 148.91,435.91 149.09,432.45 149.27,428.17 149.46,423.05 149.64,417.12 149.82,410.57 150.01,403.67 150.19,396.83 150.37,390.51 150.56,385.22 150.74,381.42 150.92,379.45 151.10,379.51 151.29,381.60 151.47,385.50 151.65,390.86 151.84,397.23 152.02,404.09 152.20,410.97 152.39,417.50 152.57,423.37 152.75,428.45 152.94,432.68 153.12,436.09 153.30,438.78 153.48,440.86 153.67,442.47 153.85,443.71 154.03,444.68 154.22,445.45 154.40,446.08 154.58,446.60 154.77,447.03 154.95,447.39 155.13,447.68 155.32,447.91 155.50,448.08 155.68,448.19 155.86,448.25 156.05,448.24 156.23,448.18 156.41,448.06 156.60,447.88 156.78,447.63 156.96,447.32 157.15,446.95 157.33,446.50 157.51,445.97 157.70,445.33 157.88,444.56 158.06,443.61 158.25,442.40 158.43,440.86 158.61,438.87 158.79,436.28 158.98,432.96 159.16,428.78 159.34,423.65 159.53,417.54 159.71,410.57 159.89,402.95 160.08,395.03 160.26,387.31 160.44,380.33 160.63,374.67 160.81,370.83 160.99,369.15 161.17,369.82 161.36,372.76 161.54,377.69 161.72,384.16 161.91,391.63 162.09,399.53 162.27,407.33 162.46,414.62 162.64,421.12 162.82,426.68 163.01,431.27 163.19,434.95 163.37,437.84 163.55,440.08 163.74,441.81 163.92,443.16 164.10,444.22 164.29,445.07 164.47,445.78 164.65,446.38 164.84,446.89 165.02,447.33 165.20,447.70 165.39,448.02 165.57,448.29 165.75,448.50 165.94,448.67 166.12,448.79 166.30,448.87 166.48,448.90 166.67,448.90 166.85,448.85 167.03,448.76 167.22,448.64 167.40,448.47 167.58,448.27 167.77,448.02 167.95,447.72 168.13,447.35 168.32,446.90 168.50,446.34 168.68,445.62 168.86,444.70 169.05,443.50 169.23,441.95 169.41,439.98 169.60,437.51 169.78,434.52 169.96,431.03 170.15,427.10 170.33,422.89 170.51,418.62 170.70,414.58 170.88,411.07 171.06,408.38 171.24,406.77 171.43,406.38 171.61,407.26 171.79,409.31 171.98,412.35 172.16,416.10 172.34,420.26 172.53,424.54 172.71,428.66 172.89,432.44 173.08,435.75 173.26,438.53 173.44,440.80 173.63,442.60 173.81,444.01 173.99,445.10 174.17,445.93 174.36,446.59 174.54,447.11 174.72,447.53 174.91,447.88 175.09,448.18 175.27,448.43 175.46,448.64 175.64,448.81 175.82,448.96 176.01,449.07 176.19,449.15 176.37,449.21 176.55,449.23 176.74,449.23 176.92,449.20 177.10,449.14 177.29,449.05 177.47,448.93 177.65,448.79 177.84,448.61 178.02,448.40 178.20,448.14 178.39,447.83 178.57,447.44 178.75,446.95 178.93,446.31 179.12,445.48 179.30,444.41 179.48,443.03 179.67,441.29 179.85,439.17 180.03,436.65 180.22,433.77 180.40,430.63 180.58,427.38 180.77,424.19 180.95,421.30 181.13,418.92 181.31,417.25 181.50,416.40 181.68,416.43 181.86,417.31 182.05,418.89 182.23,421.00 182.41,423.40 182.60,425.89 182.78,428.25 182.96,430.33 183.15,432.03 183.33,433.32 183.51,434.21 183.70,434.75 183.88,435.00 184.06,435.04 184.24,434.97 184.43,434.84 184.61,434.72 184.79,434.66 184.98,434.69 185.16,434.84 185.34,435.11 185.53,435.51 185.71,436.03 185.89,436.67 186.08,437.40 186.26,438.21 186.44,439.07 186.62,439.96 186.81,440.85 186.99,441.73 187.17,442.56 187.36,443.35 187.54,444.06 187.72,444.69 187.91,445.23 188.09,445.66 188.27,446.00 188.46,446.22 188.64,446.31 188.82,446.27 189.00,446.07 189.19,445.68 189.37,445.06 189.55,444.17 189.74,442.96 189.92,441.39 190.10,439.46 190.29,437.17 190.47,434.58 190.65,431.80 190.84,428.98 191.02,426.30 191.20,423.99 191.39,422.23 191.57,421.18 191.75,420.95 191.93,421.57 192.12,422.96 192.30,425.00 192.48,427.52 192.67,430.30 192.85,433.15 193.03,435.89 193.22,438.40 193.40,440.60 193.58,442.44 193.77,443.95 193.95,445.14 194.13,446.07 194.31,446.79 194.50,447.35 194.68,447.79 194.86,448.14 195.05,448.42 195.23,448.66 195.41,448.87 195.60,449.05 195.78,449.20 195.96,449.34" fill="none" stroke="#861838" stroke-width="1.95" stroke-linejoin="round" stroke-linecap="round"/>
<text stroke="#333" stroke-width="0.22" x="263.93" y="365.60" font-size="8.2" fill="#333" text-anchor="middle">403</text>
<text stroke="#555" stroke-width="0.22" x="222.00" y="460.10" font-size="6.4" fill="#555" text-anchor="middle">30</text>
<text stroke="#555" stroke-width="0.22" x="238.88" y="460.10" font-size="6.4" fill="#555" text-anchor="middle">35</text>
<text stroke="#555" stroke-width="0.22" x="255.75" y="460.10" font-size="6.4" fill="#555" text-anchor="middle">40</text>
<text stroke="#555" stroke-width="0.22" x="272.62" y="460.10" font-size="6.4" fill="#555" text-anchor="middle">45</text>
<text stroke="#555" stroke-width="0.22" x="289.50" y="460.10" font-size="6.4" fill="#555" text-anchor="middle">50</text>
<text stroke="#555" stroke-width="0.22" x="306.38" y="460.10" font-size="6.4" fill="#555" text-anchor="middle">55</text>
<polyline points="224.70,450.10 224.88,450.10 225.06,450.10 225.24,450.10 225.42,450.10 225.60,450.10 225.78,450.10 225.96,450.10 226.14,450.10 226.33,450.10 226.51,450.10 226.69,450.10 226.87,450.10 227.05,450.10 227.23,450.10 227.41,450.10 227.59,450.10 227.77,450.10 227.95,450.09 228.13,450.09 228.31,450.08 228.49,450.07 228.67,450.06 228.85,450.04 229.03,450.02 229.21,449.99 229.39,449.95 229.58,449.89 229.76,449.83 229.94,449.75 230.12,449.65 230.30,449.54 230.48,449.41 230.66,449.27 230.84,449.12 231.02,448.96 231.20,448.79 231.38,448.63 231.56,448.48 231.74,448.34 231.92,448.23 232.10,448.15 232.28,448.09 232.46,448.07 232.64,448.09 232.83,448.15 233.01,448.23 233.19,448.35 233.37,448.48 233.55,448.63 233.73,448.79 233.91,448.96 234.09,449.12 234.27,449.27 234.45,449.41 234.63,449.54 234.81,449.65 234.99,449.74 235.17,449.82 235.35,449.88 235.53,449.93 235.71,449.97 235.89,449.99 236.08,450.01 236.26,450.01 236.44,450.01 236.62,450.01 236.80,450.00 236.98,449.98 237.16,449.96 237.34,449.93 237.52,449.90 237.70,449.87 237.88,449.82 238.06,449.77 238.24,449.72 238.42,449.66 238.60,449.58 238.78,449.50 238.96,449.40 239.14,449.27 239.33,449.11 239.51,448.92 239.69,448.66 239.87,448.33 240.05,447.91 240.23,447.38 240.41,446.74 240.59,445.97 240.77,445.11 240.95,444.17 241.13,443.19 241.31,442.24 241.49,441.38 241.67,440.68 241.85,440.20 242.03,439.98 242.21,440.05 242.40,440.40 242.58,440.99 242.76,441.77 242.94,442.68 243.12,443.65 243.30,444.62 243.48,445.53 243.66,446.35 243.84,447.05 244.02,447.64 244.20,448.12 244.38,448.49 244.56,448.78 244.74,449.00 244.92,449.18 245.10,449.31 245.28,449.42 245.46,449.50 245.65,449.57 245.83,449.63 246.01,449.67 246.19,449.70 246.37,449.72 246.55,449.73 246.73,449.72 246.91,449.71 247.09,449.68 247.27,449.63 247.45,449.57 247.63,449.50 247.81,449.41 247.99,449.30 248.17,449.17 248.35,449.03 248.53,448.86 248.71,448.66 248.90,448.43 249.08,448.15 249.26,447.82 249.44,447.41 249.62,446.90 249.80,446.24 249.98,445.38 250.16,444.28 250.34,442.89 250.52,441.16 250.70,439.07 250.88,436.63 251.06,433.90 251.24,430.98 251.42,428.02 251.60,425.20 251.78,422.75 251.96,420.85 252.15,419.67 252.33,419.32 252.51,419.85 252.69,421.18 252.87,423.21 253.05,425.76 253.23,428.62 253.41,431.59 253.59,434.48 253.77,437.16 253.95,439.53 254.13,441.54 254.31,443.20 254.49,444.53 254.67,445.57 254.85,446.38 255.03,447.01 255.22,447.50 255.40,447.88 255.58,448.20 255.76,448.45 255.94,448.66 256.12,448.84 256.30,448.99 256.48,449.10 256.66,449.19 256.84,449.24 257.02,449.27 257.20,449.25 257.38,449.21 257.56,449.11 257.74,448.97 257.92,448.78 258.10,448.53 258.28,448.21 258.47,447.82 258.65,447.34 258.83,446.78 259.01,446.11 259.19,445.34 259.37,444.45 259.55,443.45 259.73,442.32 259.91,441.07 260.09,439.69 260.27,438.19 260.45,436.58 260.63,434.87 260.81,433.07 260.99,431.20 261.17,429.28 261.35,427.33 261.53,425.38 261.72,423.46 261.90,421.59 262.08,419.80 262.26,418.11 262.44,416.54 262.62,415.09 262.80,413.74 262.98,412.48 263.16,411.23 263.34,409.90 263.52,408.39 263.70,406.54 263.88,404.23 264.06,401.32 264.24,397.75 264.42,393.55 264.60,388.84 264.78,383.92 264.97,379.16 265.15,375.04 265.33,372.06 265.51,370.64 265.69,371.10 265.87,373.53 266.05,377.83 266.23,383.71 266.41,390.71 266.59,398.31 266.77,405.98 266.95,413.29 267.13,419.91 267.31,425.64 267.49,430.41 267.67,434.26 267.85,437.30 268.04,439.64 268.22,441.43 268.40,442.79 268.58,443.84 268.76,444.65 268.94,445.27 269.12,445.75 269.30,446.10 269.48,446.35 269.66,446.50 269.84,446.53 270.02,446.44 270.20,446.20 270.38,445.79 270.56,445.17 270.74,444.30 270.92,443.16 271.10,441.70 271.29,439.95 271.47,437.92 271.65,435.68 271.83,433.34 272.01,431.03 272.19,428.93 272.37,427.20 272.55,425.99 272.73,425.41 272.91,425.52 273.09,426.31 273.27,427.70 273.45,429.58 273.63,431.78 273.81,434.15 273.99,436.51 274.17,438.75 274.35,440.78 274.54,442.52 274.72,443.99 274.90,445.17 275.08,446.11 275.26,446.84 275.44,447.40 275.62,447.85 275.80,448.19 275.98,448.47 276.16,448.70 276.34,448.89 276.52,449.05 276.70,449.19 276.88,449.30 277.06,449.40 277.24,449.48 277.42,449.55 277.60,449.60 277.79,449.63 277.97,449.65 278.15,449.66 278.33,449.65 278.51,449.63 278.69,449.59 278.87,449.54 279.05,449.47 279.23,449.39 279.41,449.29 279.59,449.17 279.77,449.03 279.95,448.86 280.13,448.65 280.31,448.39 280.49,448.05 280.67,447.61 280.85,447.04 281.04,446.32 281.22,445.40 281.40,444.29 281.58,442.96 281.76,441.43 281.94,439.76 282.12,438.01 282.30,436.28 282.48,434.68 282.66,433.33 282.84,432.32 283.02,431.74 283.20,431.60 283.38,431.91 283.56,432.60 283.74,433.58 283.92,434.73 284.11,435.94 284.29,437.08 284.47,438.10 284.65,438.91 284.83,439.52 285.01,439.93 285.19,440.17 285.37,440.29 285.55,440.35 285.73,440.39 285.91,440.47 286.09,440.62 286.27,440.87 286.45,441.22 286.63,441.68 286.81,442.23 286.99,442.86 287.17,443.55 287.36,444.27 287.54,444.99 287.72,445.69 287.90,446.36 288.08,446.97 288.26,447.52 288.44,448.01 288.62,448.42 288.80,448.76 288.98,449.04 289.16,449.25 289.34,449.42 289.52,449.54 289.70,449.61 289.88,449.66 290.06,449.67 290.24,449.66 290.42,449.62 290.61,449.55 290.79,449.46 290.97,449.34 291.15,449.18 291.33,449.00 291.51,448.78 291.69,448.55 291.87,448.30 292.05,448.06 292.23,447.82 292.41,447.61 292.59,447.44 292.77,447.32 292.95,447.27 293.13,447.28 293.31,447.36 293.49,447.50 293.67,447.68 293.86,447.90 294.04,448.15 294.22,448.40 294.40,448.64 294.58,448.87 294.76,449.07 294.94,449.25 295.12,449.40 295.30,449.53 295.48,449.63 295.66,449.71 295.84,449.77 296.02,449.82 296.20,449.86 296.38,449.90 296.56,449.92 296.74,449.95 296.93,449.97" fill="none" stroke="#861838" stroke-width="1.95" stroke-linejoin="round" stroke-linecap="round"/>
<text stroke="#333" stroke-width="0.22" x="365.12" y="365.60" font-size="8.2" fill="#333" text-anchor="middle">404</text>
<text stroke="#555" stroke-width="0.22" x="323.20" y="460.10" font-size="6.4" fill="#555" text-anchor="middle">30</text>
<text stroke="#555" stroke-width="0.22" x="340.07" y="460.10" font-size="6.4" fill="#555" text-anchor="middle">35</text>
<text stroke="#555" stroke-width="0.22" x="356.95" y="460.10" font-size="6.4" fill="#555" text-anchor="middle">40</text>
<text stroke="#555" stroke-width="0.22" x="373.82" y="460.10" font-size="6.4" fill="#555" text-anchor="middle">45</text>
<text stroke="#555" stroke-width="0.22" x="390.70" y="460.10" font-size="6.4" fill="#555" text-anchor="middle">50</text>
<text stroke="#555" stroke-width="0.22" x="407.57" y="460.10" font-size="6.4" fill="#555" text-anchor="middle">55</text>
<polyline points="323.20,450.10 323.39,450.10 323.58,450.10 323.76,450.10 323.95,450.10 324.14,450.10 324.33,450.10 324.51,450.10 324.70,450.10 324.89,450.10 325.08,450.10 325.27,450.10 325.45,450.10 325.64,450.10 325.83,450.09 326.02,450.09 326.20,450.09 326.39,450.09 326.58,450.08 326.77,450.08 326.95,450.07 327.14,450.06 327.33,450.05 327.52,450.04 327.71,450.03 327.89,450.01 328.08,449.99 328.27,449.96 328.46,449.93 328.64,449.89 328.83,449.85 329.02,449.80 329.21,449.74 329.40,449.68 329.58,449.60 329.77,449.51 329.96,449.41 330.15,449.29 330.33,449.15 330.52,448.97 330.71,448.74 330.90,448.45 331.08,448.07 331.27,447.57 331.46,446.93 331.65,446.14 331.84,445.19 332.02,444.08 332.21,442.85 332.40,441.56 332.59,440.27 332.77,439.10 332.96,438.14 333.15,437.47 333.34,437.16 333.53,437.24 333.71,437.70 333.90,438.51 334.09,439.57 334.28,440.80 334.46,442.10 334.65,443.37 334.84,444.55 335.03,445.60 335.21,446.49 335.40,447.21 335.59,447.78 335.78,448.23 335.97,448.57 336.15,448.83 336.34,449.03 336.53,449.18 336.72,449.31 336.90,449.40 337.09,449.48 337.28,449.54 337.47,449.59 337.66,449.62 337.84,449.64 338.03,449.64 338.22,449.63 338.41,449.60 338.59,449.55 338.78,449.49 338.97,449.41 339.16,449.30 339.35,449.18 339.53,449.04 339.72,448.86 339.91,448.67 340.10,448.43 340.28,448.14 340.47,447.79 340.66,447.35 340.85,446.78 341.03,446.04 341.22,445.08 341.41,443.83 341.60,442.26 341.79,440.32 341.97,438.02 342.16,435.40 342.35,432.55 342.54,429.63 342.72,426.82 342.91,424.36 343.10,422.45 343.29,421.27 343.48,420.95 343.66,421.51 343.85,422.90 344.04,424.98 344.23,427.56 344.41,430.41 344.60,433.33 344.79,436.13 344.98,438.67 345.16,440.87 345.35,442.70 345.54,444.18 345.73,445.34 345.92,446.23 346.10,446.91 346.29,447.42 346.48,447.82 346.67,448.13 346.85,448.37 347.04,448.56 347.23,448.70 347.42,448.81 347.61,448.88 347.79,448.91 347.98,448.91 348.17,448.87 348.36,448.78 348.54,448.66 348.73,448.49 348.92,448.27 349.11,448.00 349.30,447.68 349.48,447.31 349.67,446.87 349.86,446.34 350.05,445.72 350.23,444.96 350.42,444.01 350.61,442.80 350.80,441.23 350.98,439.18 351.17,436.53 351.36,433.13 351.55,428.89 351.74,423.76 351.92,417.78 352.11,411.14 352.30,404.11 352.49,397.13 352.67,390.70 352.86,385.36 353.05,381.59 353.24,379.77 353.43,380.07 353.61,382.47 353.80,386.72 353.99,392.42 354.18,399.06 354.36,406.10 354.55,413.06 354.74,419.54 354.93,425.29 355.11,430.17 355.30,434.16 355.49,437.34 355.68,439.81 355.87,441.71 356.05,443.17 356.24,444.29 356.43,445.18 356.62,445.89 356.80,446.48 356.99,446.97 357.18,447.38 357.37,447.72 357.56,448.01 357.74,448.24 357.93,448.41 358.12,448.52 358.31,448.59 358.49,448.59 358.68,448.55 358.87,448.44 359.06,448.29 359.25,448.07 359.43,447.80 359.62,447.46 359.81,447.06 360.00,446.58 360.18,446.02 360.37,445.35 360.56,444.54 360.75,443.54 360.93,442.27 361.12,440.63 361.31,438.50 361.50,435.72 361.69,432.15 361.87,427.64 362.06,422.12 362.25,415.60 362.44,408.22 362.62,400.26 362.81,392.15 363.00,384.45 363.19,377.78 363.38,372.72 363.56,369.76 363.75,369.19 363.94,371.07 364.13,375.22 364.31,381.21 364.50,388.52 364.69,396.51 364.88,404.60 365.06,412.30 365.25,419.24 365.44,425.23 365.63,430.19 365.82,434.18 366.00,437.30 366.19,439.71 366.38,441.55 366.57,442.97 366.75,444.08 366.94,444.96 367.13,445.68 367.32,446.28 367.51,446.77 367.69,447.19 367.88,447.53 368.07,447.81 368.26,448.02 368.44,448.17 368.63,448.25 368.82,448.27 369.01,448.23 369.19,448.13 369.38,447.97 369.57,447.74 369.76,447.45 369.95,447.09 370.13,446.66 370.32,446.14 370.51,445.51 370.70,444.74 370.88,443.77 371.07,442.54 371.26,440.94 371.45,438.85 371.64,436.13 371.82,432.64 372.01,428.27 372.20,422.96 372.39,416.75 372.57,409.79 372.76,402.40 372.95,394.98 373.14,388.08 373.33,382.26 373.51,378.04 373.70,375.85 373.89,375.88 374.08,378.15 374.26,382.43 374.45,388.30 374.64,395.23 374.83,402.65 375.01,410.04 375.20,416.98 375.39,423.16 375.58,428.44 375.77,432.78 375.95,436.24 376.14,438.94 376.33,441.02 376.52,442.62 376.70,443.85 376.89,444.83 377.08,445.61 377.27,446.26 377.46,446.81 377.64,447.28 377.83,447.69 378.02,448.03 378.21,448.33 378.39,448.58 378.58,448.79 378.77,448.95 378.96,449.07 379.14,449.16 379.33,449.22 379.52,449.23 379.71,449.22 379.90,449.18 380.08,449.11 380.27,449.01 380.46,448.88 380.65,448.72 380.83,448.52 381.02,448.27 381.21,447.95 381.40,447.55 381.59,447.04 381.77,446.36 381.96,445.48 382.15,444.33 382.34,442.89 382.52,441.11 382.71,439.00 382.90,436.59 383.09,433.98 383.27,431.30 383.46,428.74 383.65,426.48 383.84,424.74 384.03,423.67 384.21,423.38 384.40,423.90 384.59,425.18 384.78,427.10 384.96,429.46 385.15,432.08 385.34,434.76 385.53,437.32 385.72,439.65 385.90,441.67 386.09,443.35 386.28,444.70 386.47,445.77 386.65,446.59 386.84,447.22 387.03,447.71 387.22,448.09 387.41,448.39 387.59,448.64 387.78,448.85 387.97,449.02 388.16,449.18 388.34,449.31 388.53,449.42 388.72,449.52 388.91,449.60 389.09,449.66 389.28,449.71 389.47,449.75 389.66,449.78 389.85,449.79 390.03,449.80 390.22,449.79 390.41,449.78 390.60,449.76 390.78,449.73 390.97,449.69 391.16,449.63 391.35,449.56 391.54,449.47 391.72,449.34 391.91,449.19 392.10,448.99 392.29,448.73 392.47,448.41 392.66,448.02 392.85,447.57 393.04,447.05 393.22,446.50 393.41,445.92 393.60,445.37 393.79,444.86 393.98,444.45 394.16,444.17 394.35,444.03 394.54,444.06 394.73,444.25 394.91,444.58 395.10,445.03 395.29,445.56 395.48,446.12 395.67,446.69 395.85,447.24 396.04,447.73 396.23,448.17 396.42,448.53 396.60,448.83 396.79,449.07 396.98,449.26 397.17,449.40 397.36,449.52 397.54,449.61 397.73,449.68 397.92,449.74 398.11,449.79 398.29,449.83" fill="none" stroke="#861838" stroke-width="1.95" stroke-linejoin="round" stroke-linecap="round"/>
<text stroke="#333" stroke-width="0.22" x="466.62" y="365.60" font-size="8.2" fill="#333" text-anchor="middle">405</text>
<text stroke="#555" stroke-width="0.22" x="424.70" y="460.10" font-size="6.4" fill="#555" text-anchor="middle">30</text>
<text stroke="#555" stroke-width="0.22" x="441.57" y="460.10" font-size="6.4" fill="#555" text-anchor="middle">35</text>
<text stroke="#555" stroke-width="0.22" x="458.45" y="460.10" font-size="6.4" fill="#555" text-anchor="middle">40</text>
<text stroke="#555" stroke-width="0.22" x="475.32" y="460.10" font-size="6.4" fill="#555" text-anchor="middle">45</text>
<text stroke="#555" stroke-width="0.22" x="492.20" y="460.10" font-size="6.4" fill="#555" text-anchor="middle">50</text>
<text stroke="#555" stroke-width="0.22" x="509.07" y="460.10" font-size="6.4" fill="#555" text-anchor="middle">55</text>
<polyline points="430.44,449.69 430.61,449.62 430.78,449.54 430.96,449.45 431.13,449.34 431.30,449.22 431.48,449.09 431.65,448.92 431.82,448.73 431.99,448.49 432.17,448.19 432.34,447.80 432.51,447.32 432.69,446.70 432.86,445.92 433.03,444.96 433.20,443.81 433.38,442.48 433.55,440.98 433.72,439.38 433.90,437.73 434.07,436.14 434.24,434.70 434.42,433.53 434.59,432.71 434.76,432.31 434.93,432.37 435.11,432.89 435.28,433.81 435.45,435.06 435.63,436.55 435.80,438.17 435.97,439.81 436.15,441.40 436.32,442.85 436.49,444.14 436.66,445.23 436.84,446.14 437.01,446.87 437.18,447.45 437.36,447.91 437.53,448.26 437.70,448.54 437.88,448.76 438.05,448.94 438.22,449.09 438.39,449.21 438.57,449.32 438.74,449.40 438.91,449.47 439.09,449.53 439.26,449.58 439.43,449.61 439.60,449.62 439.78,449.63 439.95,449.62 440.12,449.60 440.30,449.56 440.47,449.51 440.64,449.45 440.82,449.37 440.99,449.28 441.16,449.17 441.33,449.03 441.51,448.88 441.68,448.69 441.85,448.46 442.03,448.18 442.20,447.82 442.37,447.36 442.55,446.77 442.72,446.03 442.89,445.10 443.06,443.96 443.24,442.60 443.41,441.04 443.58,439.30 443.76,437.46 443.93,435.59 444.10,433.81 444.27,432.24 444.45,431.00 444.62,430.18 444.79,429.85 444.97,430.05 445.14,430.75 445.31,431.90 445.49,433.40 445.66,435.14 445.83,437.00 446.00,438.86 446.18,440.63 446.35,442.24 446.52,443.64 446.70,444.84 446.87,445.81 447.04,446.60 447.22,447.22 447.39,447.71 447.56,448.08 447.73,448.38 447.91,448.61 448.08,448.80 448.25,448.95 448.43,449.08 448.60,449.18 448.77,449.25 448.95,449.31 449.12,449.35 449.29,449.37 449.46,449.37 449.64,449.34 449.81,449.30 449.98,449.23 450.16,449.13 450.33,449.02 450.50,448.87 450.67,448.70 450.85,448.49 451.02,448.26 451.19,447.98 451.37,447.67 451.54,447.30 451.71,446.86 451.89,446.33 452.06,445.69 452.23,444.87 452.40,443.84 452.58,442.52 452.75,440.83 452.92,438.72 453.10,436.12 453.27,432.99 453.44,429.34 453.62,425.23 453.79,420.80 453.96,416.23 454.13,411.78 454.31,407.75 454.48,404.41 454.65,402.03 454.83,400.81 455.00,400.86 455.17,402.16 455.34,404.61 455.52,408.01 455.69,412.09 455.86,416.55 456.04,421.11 456.21,425.52 456.38,429.59 456.56,433.20 456.73,436.29 456.90,438.85 457.07,440.93 457.25,442.57 457.42,443.86 457.59,444.87 457.77,445.66 457.94,446.29 458.11,446.79 458.29,447.20 458.46,447.55 458.63,447.84 458.80,448.08 458.98,448.27 459.15,448.43 459.32,448.55 459.50,448.64 459.67,448.68 459.84,448.69 460.02,448.66 460.19,448.60 460.36,448.49 460.53,448.34 460.71,448.15 460.88,447.92 461.05,447.64 461.23,447.32 461.40,446.94 461.57,446.50 461.74,445.99 461.92,445.38 462.09,444.64 462.26,443.73 462.44,442.59 462.61,441.15 462.78,439.30 462.96,436.96 463.13,434.02 463.30,430.41 463.47,426.07 463.65,421.04 463.82,415.39 463.99,409.32 464.17,403.08 464.34,397.04 464.51,391.57 464.69,387.09 464.86,383.94 465.03,382.38 465.20,382.54 465.38,384.41 465.55,387.82 465.72,392.49 465.90,398.06 466.07,404.12 466.24,410.29 466.41,416.24 466.59,421.70 466.76,426.53 466.93,430.65 467.11,434.05 467.28,436.78 467.45,438.95 467.63,440.63 467.80,441.94 467.97,442.96 468.14,443.76 468.32,444.40 468.49,444.91 468.66,445.33 468.84,445.67 469.01,445.96 469.18,446.18 469.36,446.35 469.53,446.47 469.70,446.54 469.87,446.57 470.05,446.54 470.22,446.46 470.39,446.33 470.57,446.15 470.74,445.93 470.91,445.64 471.09,445.31 471.26,444.92 471.43,444.46 471.60,443.94 471.78,443.33 471.95,442.62 472.12,441.76 472.30,440.72 472.47,439.42 472.64,437.79 472.81,435.71 472.99,433.09 473.16,429.80 473.33,425.75 473.51,420.88 473.68,415.20 473.85,408.80 474.03,401.87 474.20,394.71 474.37,387.71 474.54,381.31 474.72,375.97 474.89,372.10 475.06,370.02 475.24,369.90 475.41,371.75 475.58,375.40 475.76,380.56 475.93,386.81 476.10,393.69 476.27,400.76 476.45,407.63 476.62,413.99 476.79,419.64 476.97,424.48 477.14,428.49 477.31,431.74 477.49,434.32 477.66,436.33 477.83,437.88 478.00,439.08 478.18,440.01 478.35,440.73 478.52,441.28 478.70,441.70 478.87,442.00 479.04,442.19 479.21,442.27 479.39,442.24 479.56,442.11 479.73,441.87 479.91,441.52 480.08,441.07 480.25,440.51 480.43,439.86 480.60,439.13 480.77,438.33 480.94,437.49 481.12,436.63 481.29,435.77 481.46,434.93 481.64,434.13 481.81,433.41 481.98,432.76 482.16,432.21 482.33,431.75 482.50,431.36 482.67,431.02 482.85,430.67 483.02,430.24 483.19,429.67 483.37,428.85 483.54,427.71 483.71,426.18 483.88,424.23 484.06,421.87 484.23,419.17 484.40,416.29 484.58,413.42 484.75,410.78 484.92,408.62 485.10,407.14 485.27,406.49 485.44,406.71 485.61,407.77 485.79,409.54 485.96,411.80 486.13,414.34 486.31,416.90 486.48,419.30 486.65,421.39 486.83,423.09 487.00,424.39 487.17,425.31 487.34,425.94 487.52,426.36 487.69,426.68 487.86,426.97 488.04,427.33 488.21,427.79 488.38,428.39 488.56,429.15 488.73,430.07 488.90,431.13 489.07,432.31 489.25,433.58 489.42,434.91 489.59,436.25 489.77,437.58 489.94,438.86 490.11,440.07 490.28,441.19 490.46,442.19 490.63,443.06 490.80,443.81 490.98,444.42 491.15,444.89 491.32,445.23 491.50,445.45 491.67,445.55 491.84,445.54 492.01,445.40 492.19,445.14 492.36,444.75 492.53,444.19 492.71,443.42 492.88,442.40 493.05,441.05 493.23,439.31 493.40,437.08 493.57,434.30 493.74,430.94 493.92,426.98 494.09,422.51 494.26,417.64 494.44,412.58 494.61,407.61 494.78,403.05 494.95,399.21 495.13,396.41 495.30,394.88 495.47,394.74 495.65,396.02 495.82,398.60 495.99,402.27 496.17,406.74 496.34,411.69 496.51,416.79 496.68,421.77 496.86,426.39 497.03,430.51 497.20,434.06 497.38,437.02 497.55,439.43 497.72,441.34 497.90,442.86 498.07,444.04 498.24,444.98 498.41,445.73 498.59,446.34 498.76,446.84 498.93,447.28 499.11,447.65 499.28,447.98 499.45,448.27 499.62,448.52" fill="none" stroke="#861838" stroke-width="1.95" stroke-linejoin="round" stroke-linecap="round"/>
<text stroke="#333" stroke-width="0.22" x="61.62" y="474.90" font-size="8.2" fill="#333" text-anchor="middle">406</text>
<text stroke="#555" stroke-width="0.22" x="19.70" y="569.10" font-size="6.4" fill="#555" text-anchor="middle">30</text>
<text stroke="#555" stroke-width="0.22" x="36.58" y="569.10" font-size="6.4" fill="#555" text-anchor="middle">35</text>
<text stroke="#555" stroke-width="0.22" x="53.45" y="569.10" font-size="6.4" fill="#555" text-anchor="middle">40</text>
<text stroke="#555" stroke-width="0.22" x="70.33" y="569.10" font-size="6.4" fill="#555" text-anchor="middle">45</text>
<text stroke="#555" stroke-width="0.22" x="87.20" y="569.10" font-size="6.4" fill="#555" text-anchor="middle">50</text>
<text stroke="#555" stroke-width="0.22" x="104.08" y="569.10" font-size="6.4" fill="#555" text-anchor="middle">55</text>
<polyline points="18.52,559.10 18.71,559.10 18.90,559.10 19.09,559.10 19.28,559.10 19.47,559.10 19.66,559.10 19.85,559.10 20.04,559.10 20.23,559.10 20.42,559.10 20.61,559.10 20.80,559.10 20.99,559.10 21.18,559.10 21.37,559.10 21.56,559.10 21.75,559.10 21.94,559.10 22.13,559.10 22.32,559.10 22.51,559.10 22.70,559.10 22.89,559.10 23.09,559.10 23.28,559.10 23.47,559.10 23.66,559.10 23.85,559.10 24.04,559.10 24.23,559.10 24.42,559.10 24.61,559.10 24.80,559.10 24.99,559.10 25.18,559.09 25.37,559.09 25.56,559.09 25.75,559.08 25.94,559.07 26.13,559.05 26.32,559.03 26.51,559.00 26.70,558.96 26.89,558.91 27.08,558.85 27.27,558.77 27.46,558.69 27.65,558.58 27.84,558.47 28.03,558.34 28.22,558.20 28.41,558.06 28.60,557.93 28.79,557.80 28.98,557.69 29.17,557.59 29.36,557.53 29.55,557.49 29.74,557.48 29.93,557.51 30.12,557.56 30.32,557.64 30.51,557.75 30.70,557.87 30.89,558.01 31.08,558.14 31.27,558.28 31.46,558.41 31.65,558.53 31.84,558.64 32.03,558.73 32.22,558.81 32.41,558.88 32.60,558.93 32.79,558.97 32.98,559.00 33.17,559.01 33.36,559.02 33.55,559.03 33.74,559.02 33.93,559.01 34.12,559.00 34.31,558.98 34.50,558.95 34.69,558.92 34.88,558.88 35.07,558.83 35.26,558.78 35.45,558.71 35.64,558.64 35.83,558.56 36.02,558.46 36.21,558.35 36.40,558.22 36.59,558.06 36.78,557.87 36.97,557.62 37.16,557.30 37.36,556.88 37.55,556.33 37.74,555.63 37.93,554.75 38.12,553.67 38.31,552.41 38.50,551.00 38.69,549.49 38.88,547.98 39.07,546.58 39.26,545.40 39.45,544.57 39.64,544.15 39.83,544.20 40.02,544.71 40.21,545.62 40.40,546.85 40.59,548.28 40.78,549.80 40.97,551.30 41.16,552.69 41.35,553.91 41.54,554.95 41.73,555.79 41.92,556.45 42.11,556.97 42.30,557.36 42.49,557.66 42.68,557.89 42.87,558.07 43.06,558.22 43.25,558.34 43.44,558.43 43.63,558.51 43.82,558.57 44.01,558.62 44.20,558.66 44.39,558.68 44.59,558.69 44.78,558.68 44.97,558.66 45.16,558.63 45.35,558.58 45.54,558.51 45.73,558.43 45.92,558.34 46.11,558.22 46.30,558.08 46.49,557.91 46.68,557.70 46.87,557.43 47.06,557.09 47.25,556.63 47.44,556.04 47.63,555.27 47.82,554.30 48.01,553.09 48.20,551.66 48.39,550.03 48.58,548.26 48.77,546.45 48.96,544.73 49.15,543.23 49.34,542.09 49.53,541.43 49.72,541.30 49.91,541.73 50.10,542.67 50.29,544.02 50.48,545.66 50.67,547.45 50.86,549.25 51.05,550.95 51.24,552.48 51.43,553.78 51.62,554.86 51.82,555.72 52.01,556.38 52.20,556.90 52.39,557.29 52.58,557.58 52.77,557.82 52.96,558.00 53.15,558.15 53.34,558.28 53.53,558.38 53.72,558.46 53.91,558.53 54.10,558.57 54.29,558.60 54.48,558.62 54.67,558.61 54.86,558.59 55.05,558.55 55.24,558.49 55.43,558.40 55.62,558.30 55.81,558.18 56.00,558.03 56.19,557.85 56.38,557.64 56.57,557.40 56.76,557.11 56.95,556.76 57.14,556.32 57.33,555.76 57.52,555.03 57.71,554.07 57.90,552.82 58.09,551.23 58.28,549.23 58.47,546.81 58.66,544.01 58.86,540.89 59.05,537.61 59.24,534.37 59.43,531.43 59.62,529.03 59.81,527.40 60.00,526.72 60.19,527.04 60.38,528.34 60.57,530.48 60.76,533.25 60.95,536.41 61.14,539.70 61.33,542.90 61.52,545.83 61.71,548.40 61.90,550.54 62.09,552.28 62.28,553.64 62.47,554.69 62.66,555.50 62.85,556.11 63.04,556.58 63.23,556.95 63.42,557.24 63.61,557.48 63.80,557.68 63.99,557.84 64.18,557.96 64.37,558.04 64.56,558.09 64.75,558.11 64.94,558.09 65.13,558.03 65.32,557.94 65.51,557.80 65.70,557.61 65.89,557.38 66.09,557.10 66.28,556.77 66.47,556.38 66.66,555.92 66.85,555.39 67.04,554.76 67.23,554.00 67.42,553.06 67.61,551.87 67.80,550.33 67.99,548.31 68.18,545.68 68.37,542.27 68.56,537.94 68.75,532.60 68.94,526.25 69.13,519.01 69.32,511.15 69.51,503.08 69.70,495.33 69.89,488.50 70.08,483.14 70.27,479.73 70.46,478.55 70.65,479.64 70.84,482.81 71.03,487.68 71.22,493.74 71.41,500.43 71.60,507.23 71.79,513.71 71.98,519.60 72.17,524.76 72.36,529.17 72.55,532.89 72.74,536.04 72.93,538.74 73.12,541.11 73.32,543.23 73.51,545.15 73.70,546.90 73.89,548.50 74.08,549.92 74.27,551.15 74.46,552.18 74.65,553.00 74.84,553.61 75.03,554.00 75.22,554.18 75.41,554.16 75.60,553.96 75.79,553.61 75.98,553.13 76.17,552.55 76.36,551.89 76.55,551.19 76.74,550.47 76.93,549.76 77.12,549.07 77.31,548.41 77.50,547.77 77.69,547.14 77.88,546.48 78.07,545.73 78.26,544.86 78.45,543.80 78.64,542.53 78.83,541.03 79.02,539.35 79.21,537.56 79.40,535.80 79.59,534.23 79.78,533.03 79.97,532.35 80.16,532.31 80.36,532.96 80.55,534.29 80.74,536.20 80.93,538.54 81.12,541.13 81.31,543.79 81.50,546.35 81.69,548.68 81.88,550.72 82.07,552.42 82.26,553.79 82.45,554.87 82.64,555.70 82.83,556.33 83.02,556.82 83.21,557.19 83.40,557.48 83.59,557.72 83.78,557.92 83.97,558.09 84.16,558.23 84.35,558.35 84.54,558.45 84.73,558.53 84.92,558.60 85.11,558.65 85.30,558.69 85.49,558.72 85.68,558.73 85.87,558.73 86.06,558.72 86.25,558.70 86.44,558.67 86.63,558.63 86.82,558.57 87.01,558.50 87.20,558.40 87.39,558.28 87.59,558.12 87.78,557.92 87.97,557.66 88.16,557.32 88.35,556.90 88.54,556.38 88.73,555.77 88.92,555.09 89.11,554.34 89.30,553.56 89.49,552.81 89.68,552.13 89.87,551.57 90.06,551.19 90.25,551.01 90.44,551.06 90.63,551.32 90.82,551.78 91.01,552.39 91.20,553.11 91.39,553.88 91.58,554.65 91.77,555.38 91.96,556.04 92.15,556.61 92.34,557.08 92.53,557.47 92.72,557.78 92.91,558.02 93.10,558.21 93.29,558.35 93.48,558.47 93.67,558.56 93.86,558.64 94.05,558.70 94.24,558.76 94.43,558.81 94.63,558.85" fill="none" stroke="#861838" stroke-width="1.95" stroke-linejoin="round" stroke-linecap="round"/>
<text stroke="#333" stroke-width="0.22" x="162.62" y="474.90" font-size="8.2" fill="#333" text-anchor="middle">407</text>
<text stroke="#555" stroke-width="0.22" x="120.70" y="569.10" font-size="6.4" fill="#555" text-anchor="middle">30</text>
<text stroke="#555" stroke-width="0.22" x="137.57" y="569.10" font-size="6.4" fill="#555" text-anchor="middle">35</text>
<text stroke="#555" stroke-width="0.22" x="154.45" y="569.10" font-size="6.4" fill="#555" text-anchor="middle">40</text>
<text stroke="#555" stroke-width="0.22" x="171.32" y="569.10" font-size="6.4" fill="#555" text-anchor="middle">45</text>
<text stroke="#555" stroke-width="0.22" x="188.20" y="569.10" font-size="6.4" fill="#555" text-anchor="middle">50</text>
<text stroke="#555" stroke-width="0.22" x="205.07" y="569.10" font-size="6.4" fill="#555" text-anchor="middle">55</text>
<polyline points="126.10,559.10 126.27,559.09 126.45,559.09 126.62,559.09 126.80,559.08 126.97,559.07 127.15,559.06 127.32,559.04 127.50,559.02 127.67,558.99 127.85,558.96 128.02,558.91 128.20,558.86 128.37,558.79 128.55,558.71 128.72,558.62 128.89,558.52 129.07,558.40 129.24,558.28 129.42,558.16 129.59,558.03 129.77,557.91 129.94,557.79 130.12,557.69 130.29,557.60 130.47,557.54 130.64,557.49 130.82,557.48 130.99,557.49 131.17,557.53 131.34,557.59 131.51,557.68 131.69,557.78 131.86,557.89 132.04,558.02 132.21,558.14 132.39,558.27 132.56,558.39 132.74,558.50 132.91,558.61 133.09,558.70 133.26,558.78 133.44,558.85 133.61,558.90 133.78,558.95 133.96,558.98 134.13,559.01 134.31,559.02 134.48,559.04 134.66,559.04 134.83,559.04 135.01,559.04 135.18,559.04 135.36,559.03 135.53,559.01 135.71,558.99 135.88,558.97 136.06,558.95 136.23,558.92 136.40,558.88 136.58,558.85 136.75,558.80 136.93,558.75 137.10,558.69 137.28,558.63 137.45,558.55 137.63,558.46 137.80,558.36 137.98,558.23 138.15,558.08 138.33,557.88 138.50,557.64 138.68,557.32 138.85,556.91 139.02,556.41 139.20,555.78 139.37,555.04 139.55,554.19 139.72,553.24 139.90,552.23 140.07,551.22 140.25,550.25 140.42,549.40 140.60,548.74 140.77,548.32 140.95,548.16 141.12,548.30 141.30,548.71 141.47,549.37 141.64,550.21 141.82,551.17 141.99,552.18 142.17,553.19 142.34,554.14 142.52,555.00 142.69,555.75 142.87,556.37 143.04,556.88 143.22,557.29 143.39,557.61 143.57,557.86 143.74,558.05 143.91,558.20 144.09,558.32 144.26,558.41 144.44,558.48 144.61,558.54 144.79,558.59 144.96,558.62 145.14,558.64 145.31,558.64 145.49,558.64 145.66,558.62 145.84,558.58 146.01,558.53 146.19,558.46 146.36,558.38 146.53,558.28 146.71,558.16 146.88,558.01 147.06,557.85 147.23,557.66 147.41,557.44 147.58,557.18 147.76,556.88 147.93,556.52 148.11,556.07 148.28,555.52 148.46,554.82 148.63,553.92 148.81,552.77 148.98,551.31 149.15,549.50 149.33,547.30 149.50,544.72 149.68,541.77 149.85,538.55 150.03,535.20 150.20,531.87 150.38,528.79 150.55,526.16 150.73,524.18 150.90,523.00 151.08,522.71 151.25,523.30 151.43,524.71 151.60,526.78 151.77,529.32 151.95,532.11 152.12,534.93 152.30,537.60 152.47,539.99 152.65,542.00 152.82,543.60 153.00,544.81 153.17,545.66 153.35,546.22 153.52,546.56 153.70,546.77 153.87,546.89 154.04,547.00 154.22,547.14 154.39,547.33 154.57,547.59 154.74,547.94 154.92,548.38 155.09,548.89 155.27,549.46 155.44,550.08 155.62,550.73 155.79,551.38 155.97,552.02 156.14,552.63 156.32,553.17 156.49,553.66 156.66,554.05 156.84,554.36 157.01,554.57 157.19,554.67 157.36,554.67 157.54,554.55 157.71,554.31 157.89,553.94 158.06,553.41 158.24,552.69 158.41,551.74 158.59,550.48 158.76,548.83 158.94,546.68 159.11,543.92 159.28,540.45 159.46,536.19 159.63,531.11 159.81,525.25 159.98,518.77 160.16,511.89 160.33,504.97 160.51,498.43 160.68,492.72 160.86,488.29 161.03,485.49 161.21,484.58 161.38,485.63 161.56,488.54 161.73,493.08 161.90,498.86 162.08,505.44 162.25,512.37 162.43,519.23 162.60,525.69 162.78,531.50 162.95,536.54 163.13,540.77 163.30,544.21 163.48,546.96 163.65,549.12 163.83,550.80 164.00,552.12 164.18,553.16 164.35,553.99 164.52,554.68 164.70,555.24 164.87,555.72 165.05,556.13 165.22,556.47 165.40,556.75 165.57,556.98 165.75,557.16 165.92,557.28 166.10,557.35 166.27,557.37 166.45,557.34 166.62,557.25 166.79,557.12 166.97,556.93 167.14,556.68 167.32,556.38 167.49,556.02 167.67,555.59 167.84,555.09 168.02,554.50 168.19,553.79 168.37,552.94 168.54,551.87 168.72,550.54 168.89,548.83 169.07,546.64 169.24,543.86 169.41,540.34 169.59,536.00 169.76,530.78 169.94,524.70 170.11,517.86 170.29,510.50 170.46,502.94 170.64,495.62 170.81,489.04 170.99,483.67 171.16,479.96 171.34,478.21 171.51,478.59 171.69,481.05 171.86,485.39 172.03,491.25 172.21,498.15 172.38,505.60 172.56,513.13 172.73,520.35 172.91,526.94 173.08,532.73 173.26,537.63 173.43,541.67 173.61,544.92 173.78,547.48 173.96,549.48 174.13,551.05 174.31,552.28 174.48,553.26 174.65,554.06 174.83,554.72 175.00,555.28 175.18,555.76 175.35,556.16 175.53,556.50 175.70,556.79 175.88,557.02 176.05,557.19 176.23,557.32 176.40,557.39 176.58,557.41 176.75,557.38 176.92,557.30 177.10,557.17 177.27,556.99 177.45,556.75 177.62,556.46 177.80,556.12 177.97,555.71 178.15,555.23 178.32,554.65 178.50,553.95 178.67,553.09 178.85,552.01 179.02,550.64 179.20,548.88 179.37,546.63 179.54,543.78 179.72,540.23 179.89,535.91 180.07,530.82 180.24,525.03 180.42,518.68 180.59,512.05 180.77,505.49 180.94,499.42 181.12,494.26 181.29,490.43 181.47,488.26 181.64,487.92 181.82,489.44 181.99,492.70 182.16,497.42 182.34,503.21 182.51,509.65 182.69,516.30 182.86,522.78 183.04,528.80 183.21,534.16 183.39,538.76 183.56,542.58 183.74,545.68 183.91,548.14 184.09,550.07 184.26,551.58 184.44,552.76 184.61,553.71 184.78,554.48 184.96,555.11 185.13,555.65 185.31,556.12 185.48,556.52 185.66,556.87 185.83,557.18 186.01,557.45 186.18,557.68 186.36,557.87 186.53,558.04 186.71,558.17 186.88,558.27 187.06,558.35 187.23,558.41 187.40,558.44 187.58,558.45 187.75,558.44 187.93,558.42 188.10,558.37 188.28,558.31 188.45,558.22 188.63,558.11 188.80,557.96 188.98,557.77 189.15,557.53 189.33,557.21 189.50,556.81 189.67,556.29 189.85,555.64 190.02,554.85 190.20,553.93 190.37,552.87 190.55,551.71 190.72,550.51 190.90,549.32 191.07,548.22 191.25,547.29 191.42,546.60 191.60,546.21 191.77,546.16 191.95,546.45 192.12,547.05 192.29,547.91 192.47,548.97 192.64,550.14 192.82,551.35 192.99,552.53 193.17,553.62 193.34,554.59 193.52,555.42 193.69,556.12 193.87,556.67 194.04,557.12 194.22,557.47 194.39,557.74 194.57,557.96 194.74,558.13 194.91,558.27 195.09,558.38 195.26,558.48 195.44,558.56 195.61,558.64 195.79,558.71 195.96,558.76" fill="none" stroke="#861838" stroke-width="1.95" stroke-linejoin="round" stroke-linecap="round"/>
<text stroke="#333" stroke-width="0.22" x="263.93" y="474.90" font-size="8.2" fill="#333" text-anchor="middle">408</text>
<text stroke="#555" stroke-width="0.22" x="222.00" y="569.10" font-size="6.4" fill="#555" text-anchor="middle">30</text>
<text stroke="#555" stroke-width="0.22" x="238.88" y="569.10" font-size="6.4" fill="#555" text-anchor="middle">35</text>
<text stroke="#555" stroke-width="0.22" x="255.75" y="569.10" font-size="6.4" fill="#555" text-anchor="middle">40</text>
<text stroke="#555" stroke-width="0.22" x="272.62" y="569.10" font-size="6.4" fill="#555" text-anchor="middle">45</text>
<text stroke="#555" stroke-width="0.22" x="289.50" y="569.10" font-size="6.4" fill="#555" text-anchor="middle">50</text>
<text stroke="#555" stroke-width="0.22" x="306.38" y="569.10" font-size="6.4" fill="#555" text-anchor="middle">55</text>
<polyline points="221.32,559.10 221.51,559.10 221.70,559.10 221.89,559.10 222.08,559.10 222.27,559.10 222.46,559.10 222.65,559.10 222.84,559.10 223.03,559.10 223.22,559.10 223.41,559.10 223.60,559.10 223.79,559.10 223.98,559.10 224.17,559.10 224.36,559.09 224.55,559.09 224.74,559.09 224.93,559.09 225.12,559.08 225.31,559.08 225.50,559.08 225.69,559.07 225.88,559.06 226.07,559.05 226.26,559.04 226.45,559.03 226.64,559.01 226.83,559.00 227.02,558.98 227.21,558.95 227.40,558.93 227.59,558.90 227.78,558.86 227.97,558.82 228.16,558.78 228.35,558.73 228.54,558.66 228.73,558.59 228.92,558.49 229.11,558.37 229.30,558.22 229.49,558.02 229.68,557.77 229.87,557.46 230.06,557.07 230.25,556.61 230.44,556.08 230.63,555.49 230.82,554.88 231.01,554.27 231.20,553.70 231.39,553.22 231.58,552.86 231.77,552.66 231.96,552.63 232.15,552.78 232.34,553.10 232.53,553.55 232.72,554.10 232.91,554.70 233.10,555.32 233.29,555.91 233.47,556.46 233.66,556.94 233.85,557.35 234.04,557.69 234.23,557.95 234.42,558.16 234.61,558.33 234.80,558.45 234.99,558.55 235.18,558.63 235.37,558.69 235.56,558.73 235.75,558.77 235.94,558.80 236.13,558.82 236.32,558.83 236.51,558.84 236.70,558.84 236.89,558.82 237.08,558.80 237.27,558.77 237.46,558.73 237.65,558.67 237.84,558.60 238.03,558.52 238.22,558.43 238.41,558.32 238.60,558.19 238.79,558.04 238.98,557.86 239.17,557.64 239.36,557.36 239.55,557.01 239.74,556.56 239.93,555.96 240.12,555.19 240.31,554.20 240.50,552.96 240.69,551.46 240.88,549.71 241.07,547.77 241.26,545.73 241.45,543.70 241.64,541.86 241.83,540.35 242.02,539.32 242.21,538.87 242.40,539.04 242.59,539.82 242.78,541.14 242.97,542.85 243.16,544.81 243.35,546.87 243.54,548.87 243.73,550.71 243.92,552.32 244.11,553.67 244.30,554.77 244.49,555.63 244.68,556.30 244.87,556.81 245.06,557.19 245.25,557.49 245.44,557.72 245.62,557.90 245.81,558.04 246.00,558.16 246.19,558.25 246.38,558.31 246.57,558.35 246.76,558.36 246.95,558.35 247.14,558.32 247.33,558.25 247.52,558.16 247.71,558.04 247.90,557.89 248.09,557.70 248.28,557.47 248.47,557.21 248.66,556.90 248.85,556.54 249.04,556.10 249.23,555.57 249.42,554.91 249.61,554.07 249.80,552.97 249.99,551.54 250.18,549.67 250.37,547.28 250.56,544.29 250.75,540.67 250.94,536.47 251.13,531.80 251.32,526.89 251.51,522.05 251.70,517.63 251.89,514.03 252.08,511.58 252.27,510.53 252.46,510.98 252.65,512.90 252.84,516.07 253.03,520.21 253.22,524.93 253.41,529.85 253.60,534.64 253.79,539.05 253.98,542.91 254.17,546.15 254.36,548.77 254.55,550.84 254.74,552.43 254.93,553.65 255.12,554.58 255.31,555.30 255.50,555.87 255.69,556.32 255.88,556.69 256.07,557.00 256.26,557.26 256.45,557.47 256.64,557.63 256.83,557.75 257.02,557.82 257.21,557.86 257.40,557.85 257.59,557.79 257.77,557.70 257.96,557.56 258.15,557.37 258.34,557.13 258.53,556.85 258.72,556.51 258.91,556.10 259.10,555.61 259.29,555.01 259.48,554.26 259.67,553.31 259.86,552.07 260.05,550.44 260.24,548.32 260.43,545.59 260.62,542.17 260.81,538.01 261.00,533.13 261.19,527.68 261.38,521.89 261.57,516.12 261.76,510.79 261.95,506.35 262.14,503.22 262.33,501.70 262.52,501.96 262.71,503.97 262.90,507.52 263.09,512.26 263.28,517.76 263.47,523.58 263.66,529.30 263.85,534.61 264.04,539.28 264.23,543.23 264.42,546.44 264.61,548.98 264.80,550.95 264.99,552.45 265.18,553.60 265.37,554.48 265.56,555.18 265.75,555.73 265.94,556.19 266.13,556.56 266.32,556.87 266.51,557.12 266.70,557.31 266.89,557.46 267.08,557.55 267.27,557.58 267.46,557.57 267.65,557.50 267.84,557.37 268.03,557.19 268.22,556.95 268.41,556.64 268.60,556.28 268.79,555.84 268.98,555.32 269.17,554.70 269.36,553.96 269.55,553.06 269.74,551.92 269.93,550.46 270.11,548.55 270.30,546.06 270.49,542.82 270.68,538.69 270.87,533.54 271.06,527.36 271.25,520.21 271.44,512.34 271.63,504.14 271.82,496.14 272.01,488.95 272.20,483.21 272.39,479.47 272.58,478.10 272.77,479.25 272.96,482.79 273.15,488.37 273.34,495.46 273.53,503.41 273.72,511.62 273.91,519.54 274.10,526.76 274.29,533.03 274.48,538.27 274.67,542.49 274.86,545.80 275.05,548.36 275.24,550.31 275.43,551.80 275.62,552.97 275.81,553.89 276.00,554.64 276.19,555.27 276.38,555.80 276.57,556.24 276.76,556.62 276.95,556.93 277.14,557.17 277.33,557.36 277.52,557.50 277.71,557.57 277.90,557.60 278.09,557.57 278.28,557.48 278.47,557.35 278.66,557.16 278.85,556.92 279.04,556.62 279.23,556.26 279.42,555.82 279.61,555.28 279.80,554.61 279.99,553.76 280.18,552.66 280.37,551.21 280.56,549.32 280.75,546.87 280.94,543.76 281.13,539.94 281.32,535.39 281.51,530.21 281.70,524.59 281.89,518.85 282.07,513.38 282.26,508.62 282.45,505.00 282.64,502.88 282.83,502.46 283.02,503.80 283.21,506.76 283.40,511.04 283.59,516.24 283.78,521.91 283.97,527.63 284.16,533.04 284.35,537.91 284.54,542.08 284.73,545.52 284.92,548.26 285.11,550.41 285.30,552.05 285.49,553.31 285.68,554.28 285.87,555.04 286.06,555.66 286.25,556.16 286.44,556.58 286.63,556.95 286.82,557.26 287.01,557.53 287.20,557.75 287.39,557.95 287.58,558.10 287.77,558.22 287.96,558.32 288.15,558.38 288.34,558.42 288.53,558.43 288.72,558.41 288.91,558.37 289.10,558.31 289.29,558.23 289.48,558.12 289.67,557.98 289.86,557.81 290.05,557.61 290.24,557.34 290.43,557.01 290.62,556.58 290.81,556.01 291.00,555.27 291.19,554.31 291.38,553.09 291.57,551.60 291.76,549.83 291.95,547.82 292.14,545.64 292.33,543.43 292.52,541.33 292.71,539.52 292.90,538.16 293.09,537.38 293.28,537.27 293.47,537.83 293.66,539.01 293.85,540.69 294.04,542.71 294.22,544.90 294.41,547.10 294.60,549.18 294.79,551.04 294.98,552.63 295.17,553.94 295.36,554.98 295.55,555.80 295.74,556.42 295.93,556.90 296.12,557.27 296.31,557.56 296.50,557.79 296.69,557.99 296.88,558.15 297.07,558.29 297.26,558.42" fill="none" stroke="#861838" stroke-width="1.95" stroke-linejoin="round" stroke-linecap="round"/>
<text stroke="#333" stroke-width="0.22" x="365.12" y="474.90" font-size="8.2" fill="#333" text-anchor="middle">409</text>
<text stroke="#555" stroke-width="0.22" x="323.20" y="569.10" font-size="6.4" fill="#555" text-anchor="middle">30</text>
<text stroke="#555" stroke-width="0.22" x="340.07" y="569.10" font-size="6.4" fill="#555" text-anchor="middle">35</text>
<text stroke="#555" stroke-width="0.22" x="356.95" y="569.10" font-size="6.4" fill="#555" text-anchor="middle">40</text>
<text stroke="#555" stroke-width="0.22" x="373.82" y="569.10" font-size="6.4" fill="#555" text-anchor="middle">45</text>
<text stroke="#555" stroke-width="0.22" x="390.70" y="569.10" font-size="6.4" fill="#555" text-anchor="middle">50</text>
<text stroke="#555" stroke-width="0.22" x="407.57" y="569.10" font-size="6.4" fill="#555" text-anchor="middle">55</text>
<polyline points="328.60,559.10 328.77,559.10 328.95,559.10 329.12,559.10 329.30,559.10 329.47,559.10 329.65,559.10 329.82,559.10 329.99,559.10 330.17,559.10 330.34,559.10 330.52,559.10 330.69,559.10 330.87,559.10 331.04,559.10 331.21,559.10 331.39,559.10 331.56,559.10 331.74,559.10 331.91,559.10 332.08,559.10 332.26,559.10 332.43,559.10 332.61,559.10 332.78,559.10 332.96,559.10 333.13,559.10 333.30,559.10 333.48,559.10 333.65,559.10 333.83,559.10 334.00,559.10 334.18,559.10 334.35,559.10 334.52,559.10 334.70,559.10 334.87,559.10 335.05,559.10 335.22,559.10 335.40,559.10 335.57,559.10 335.74,559.10 335.92,559.10 336.09,559.09 336.27,559.09 336.44,559.09 336.61,559.09 336.79,559.09 336.96,559.08 337.14,559.08 337.31,559.08 337.49,559.07 337.66,559.07 337.83,559.06 338.01,559.05 338.18,559.05 338.36,559.04 338.53,559.03 338.71,559.02 338.88,559.00 339.05,558.99 339.23,558.97 339.40,558.96 339.58,558.94 339.75,558.91 339.93,558.88 340.10,558.85 340.27,558.81 340.45,558.76 340.62,558.70 340.80,558.62 340.97,558.52 341.14,558.40 341.32,558.26 341.49,558.10 341.67,557.91 341.84,557.70 342.02,557.47 342.19,557.24 342.36,557.01 342.54,556.79 342.71,556.59 342.89,556.44 343.06,556.33 343.24,556.27 343.41,556.27 343.58,556.33 343.76,556.45 343.93,556.61 344.11,556.81 344.28,557.03 344.46,557.26 344.63,557.49 344.80,557.72 344.98,557.93 345.15,558.11 345.33,558.27 345.50,558.41 345.67,558.53 345.85,558.62 346.02,558.69 346.20,558.75 346.37,558.80 346.55,558.84 346.72,558.87 346.89,558.89 347.07,558.91 347.24,558.92 347.42,558.93 347.59,558.94 347.77,558.94 347.94,558.94 348.11,558.94 348.29,558.93 348.46,558.92 348.64,558.91 348.81,558.89 348.99,558.87 349.16,558.84 349.33,558.81 349.51,558.78 349.68,558.73 349.86,558.68 350.03,558.62 350.21,558.55 350.38,558.46 350.55,558.35 350.73,558.20 350.90,558.02 351.08,557.80 351.25,557.52 351.42,557.18 351.60,556.77 351.77,556.31 351.95,555.80 352.12,555.24 352.30,554.68 352.47,554.12 352.64,553.61 352.82,553.18 352.99,552.86 353.17,552.67 353.34,552.62 353.52,552.73 353.69,552.98 353.86,553.35 354.04,553.82 354.21,554.35 354.39,554.91 354.56,555.48 354.74,556.02 354.91,556.51 355.08,556.95 355.26,557.33 355.43,557.64 355.61,557.90 355.78,558.10 355.95,558.27 356.13,558.40 356.30,558.50 356.48,558.58 356.65,558.64 356.83,558.70 357.00,558.74 357.17,558.78 357.35,558.81 357.52,558.83 357.70,558.85 357.87,558.87 358.05,558.87 358.22,558.88 358.39,558.88 358.57,558.87 358.74,558.86 358.92,558.85 359.09,558.82 359.27,558.80 359.44,558.77 359.61,558.73 359.79,558.68 359.96,558.62 360.14,558.56 360.31,558.47 360.48,558.37 360.66,558.24 360.83,558.08 361.01,557.87 361.18,557.61 361.36,557.29 361.53,556.90 361.70,556.44 361.88,555.92 362.05,555.33 362.23,554.71 362.40,554.07 362.58,553.44 362.75,552.88 362.92,552.40 363.10,552.04 363.27,551.83 363.45,551.79 363.62,551.92 363.80,552.20 363.97,552.61 364.14,553.12 364.32,553.70 364.49,554.30 364.67,554.90 364.84,555.45 365.01,555.94 365.19,556.35 365.36,556.68 365.54,556.92 365.71,557.07 365.89,557.14 366.06,557.13 366.23,557.05 366.41,556.91 366.58,556.71 366.76,556.44 366.93,556.11 367.11,555.71 367.28,555.23 367.45,554.66 367.63,553.95 367.80,553.06 367.98,551.94 368.15,550.49 368.33,548.61 368.50,546.15 368.67,542.99 368.85,539.01 369.02,534.12 369.20,528.31 369.37,521.67 369.55,514.41 369.72,506.88 369.89,499.51 370.07,492.82 370.24,487.31 370.42,483.42 370.59,481.43 370.76,481.45 370.94,483.37 371.11,486.91 371.29,491.63 371.46,497.04 371.64,502.66 371.81,508.05 371.98,512.90 372.16,517.04 372.33,520.40 372.51,523.00 372.68,524.97 372.86,526.44 373.03,527.56 373.20,528.48 373.38,529.30 373.55,530.12 373.73,531.00 373.90,531.97 374.08,533.06 374.25,534.27 374.42,535.59 374.60,536.99 374.77,538.48 374.95,540.01 375.12,541.56 375.29,543.12 375.47,544.66 375.64,546.16 375.82,547.60 375.99,548.96 376.17,550.23 376.34,551.41 376.51,552.49 376.69,553.47 376.86,554.34 377.04,555.11 377.21,555.78 377.39,556.36 377.56,556.85 377.73,557.27 377.91,557.62 378.08,557.91 378.26,558.14 378.43,558.33 378.61,558.48 378.78,558.59 378.95,558.67 379.13,558.73 379.30,558.77 379.48,558.79 379.65,558.79 379.82,558.79 380.00,558.77 380.17,558.74 380.35,558.70 380.52,558.66 380.70,558.60 380.87,558.53 381.04,558.44 381.22,558.34 381.39,558.20 381.57,558.03 381.74,557.82 381.92,557.55 382.09,557.21 382.26,556.81 382.44,556.32 382.61,555.76 382.79,555.13 382.96,554.45 383.14,553.74 383.31,553.04 383.48,552.39 383.66,551.82 383.83,551.38 384.01,551.10 384.18,551.00 384.36,551.09 384.53,551.36 384.70,551.79 384.88,552.35 385.05,553.00 385.23,553.69 385.40,554.40 385.57,555.09 385.75,555.72 385.92,556.29 386.10,556.78 386.27,557.19 386.45,557.53 386.62,557.80 386.79,558.02 386.97,558.19 387.14,558.32 387.32,558.43 387.49,558.52 387.67,558.59 387.84,558.65 388.01,558.69 388.19,558.74 388.36,558.77 388.54,558.80 388.71,558.82 388.89,558.83 389.06,558.84 389.23,558.84 389.41,558.84 389.58,558.83 389.76,558.82 389.93,558.80 390.10,558.77 390.28,558.74 390.45,558.70 390.63,558.65 390.80,558.59 390.98,558.52 391.15,558.44 391.32,558.34 391.50,558.21 391.67,558.05 391.85,557.85 392.02,557.60 392.20,557.29 392.37,556.89 392.54,556.42 392.72,555.86 392.89,555.22 393.07,554.51 393.24,553.74 393.42,552.96 393.59,552.20 393.76,551.51 393.94,550.93 394.11,550.49 394.29,550.24 394.46,550.20 394.63,550.36 394.81,550.71 394.98,551.23 395.16,551.88 395.33,552.62 395.51,553.40 395.68,554.17 395.85,554.91 396.03,555.59 396.20,556.18 396.38,556.70 396.55,557.12 396.73,557.47 396.90,557.75 397.07,557.98 397.25,558.15 397.42,558.30 397.60,558.41 397.77,558.50 397.95,558.58 398.12,558.65 398.29,558.71" fill="none" stroke="#861838" stroke-width="1.95" stroke-linejoin="round" stroke-linecap="round"/>
<text stroke="#333" stroke-width="0.22" x="466.62" y="474.90" font-size="8.2" fill="#333" text-anchor="middle">410</text>
<text stroke="#555" stroke-width="0.22" x="424.70" y="569.10" font-size="6.4" fill="#555" text-anchor="middle">30</text>
<text stroke="#555" stroke-width="0.22" x="441.57" y="569.10" font-size="6.4" fill="#555" text-anchor="middle">35</text>
<text stroke="#555" stroke-width="0.22" x="458.45" y="569.10" font-size="6.4" fill="#555" text-anchor="middle">40</text>
<text stroke="#555" stroke-width="0.22" x="475.32" y="569.10" font-size="6.4" fill="#555" text-anchor="middle">45</text>
<text stroke="#555" stroke-width="0.22" x="492.20" y="569.10" font-size="6.4" fill="#555" text-anchor="middle">50</text>
<text stroke="#555" stroke-width="0.22" x="509.07" y="569.10" font-size="6.4" fill="#555" text-anchor="middle">55</text>
<polyline points="424.36,559.10 424.55,559.10 424.74,559.10 424.93,559.10 425.12,559.10 425.30,559.10 425.49,559.10 425.68,559.10 425.87,559.10 426.06,559.10 426.24,559.10 426.43,559.10 426.62,559.10 426.81,559.10 427.00,559.10 427.18,559.10 427.37,559.10 427.56,559.10 427.75,559.09 427.94,559.09 428.13,559.09 428.31,559.09 428.50,559.08 428.69,559.08 428.88,559.07 429.07,559.07 429.25,559.06 429.44,559.05 429.63,559.03 429.82,559.02 430.01,559.00 430.20,558.98 430.38,558.95 430.57,558.93 430.76,558.89 430.95,558.86 431.14,558.82 431.32,558.77 431.51,558.71 431.70,558.64 431.89,558.55 432.08,558.44 432.27,558.30 432.45,558.12 432.64,557.88 432.83,557.57 433.02,557.19 433.21,556.72 433.39,556.18 433.58,555.57 433.77,554.92 433.96,554.28 434.15,553.68 434.33,553.18 434.52,552.82 434.71,552.64 434.90,552.65 435.09,552.86 435.28,553.24 435.46,553.76 435.65,554.37 435.84,555.02 436.03,555.66 436.22,556.26 436.40,556.79 436.59,557.25 436.78,557.62 436.97,557.91 437.16,558.14 437.35,558.32 437.53,558.45 437.72,558.55 437.91,558.63 438.10,558.69 438.29,558.74 438.47,558.78 438.66,558.81 438.85,558.83 439.04,558.85 439.23,558.86 439.41,558.85 439.60,558.84 439.79,558.82 439.98,558.80 440.17,558.76 440.36,558.71 440.54,558.65 440.73,558.58 440.92,558.50 441.11,558.40 441.30,558.29 441.48,558.15 441.67,557.99 441.86,557.79 442.05,557.54 442.24,557.21 442.43,556.78 442.61,556.22 442.80,555.50 442.99,554.60 443.18,553.49 443.37,552.18 443.55,550.70 443.74,549.10 443.93,547.48 444.12,545.94 444.31,544.61 444.50,543.60 444.68,543.02 444.87,542.92 445.06,543.32 445.25,544.16 445.44,545.37 445.62,546.85 445.81,548.45 446.00,550.07 446.19,551.61 446.38,552.99 446.56,554.18 446.75,555.16 446.94,555.95 447.13,556.57 447.32,557.04 447.51,557.40 447.69,557.68 447.88,557.89 448.07,558.06 448.26,558.20 448.45,558.31 448.63,558.40 448.82,558.46 449.01,558.52 449.20,558.55 449.39,558.57 449.58,558.57 449.76,558.55 449.95,558.51 450.14,558.45 450.33,558.37 450.52,558.27 450.70,558.15 450.89,558.00 451.08,557.83 451.27,557.62 451.46,557.38 451.65,557.09 451.83,556.74 452.02,556.31 452.21,555.75 452.40,555.03 452.59,554.08 452.77,552.86 452.96,551.29 453.15,549.33 453.34,546.96 453.53,544.21 453.71,541.14 453.90,537.91 454.09,534.69 454.28,531.74 454.47,529.29 454.66,527.57 454.84,526.75 455.03,526.92 455.22,528.05 455.41,530.04 455.60,532.68 455.78,535.75 455.97,539.00 456.16,542.20 456.35,545.17 456.54,547.80 456.73,550.03 456.91,551.85 457.10,553.30 457.29,554.42 457.48,555.28 457.67,555.94 457.85,556.44 458.04,556.84 458.23,557.16 458.42,557.42 458.61,557.63 458.80,557.80 458.98,557.94 459.17,558.05 459.36,558.13 459.55,558.18 459.74,558.19 459.92,558.18 460.11,558.13 460.30,558.05 460.49,557.94 460.68,557.79 460.86,557.60 461.05,557.37 461.24,557.10 461.43,556.79 461.62,556.42 461.81,555.97 461.99,555.43 462.18,554.76 462.37,553.90 462.56,552.80 462.75,551.36 462.93,549.48 463.12,547.07 463.31,544.05 463.50,540.38 463.69,536.07 463.88,531.23 464.06,526.08 464.25,520.90 464.44,516.08 464.63,511.99 464.82,509.02 465.00,507.46 465.19,507.46 465.38,509.01 465.57,511.98 465.76,516.05 465.95,520.88 466.13,526.05 466.32,531.21 466.51,536.04 466.70,540.35 466.89,544.03 467.07,547.05 467.26,549.46 467.45,551.33 467.64,552.77 467.83,553.86 468.01,554.71 468.20,555.36 468.39,555.88 468.58,556.30 468.77,556.65 468.96,556.92 469.14,557.14 469.33,557.31 469.52,557.42 469.71,557.49 469.90,557.50 470.08,557.45 470.27,557.36 470.46,557.20 470.65,556.99 470.84,556.72 471.03,556.38 471.21,555.98 471.40,555.50 471.59,554.94 471.78,554.26 471.97,553.44 472.15,552.41 472.34,551.11 472.53,549.43 472.72,547.23 472.91,544.37 473.09,540.70 473.28,536.07 473.47,530.43 473.66,523.78 473.85,516.29 474.04,508.27 474.22,500.17 474.41,492.55 474.60,486.03 474.79,481.21 474.98,478.54 475.16,478.30 475.35,480.51 475.54,484.95 475.73,491.18 475.92,498.64 476.11,506.70 476.29,514.78 476.48,522.40 476.67,529.22 476.86,535.07 477.05,539.89 477.23,543.74 477.42,546.75 477.61,549.06 477.80,550.84 477.99,552.21 478.18,553.28 478.36,554.15 478.55,554.86 478.74,555.45 478.93,555.96 479.12,556.39 479.30,556.76 479.49,557.07 479.68,557.32 479.87,557.51 480.06,557.65 480.24,557.75 480.43,557.79 480.62,557.79 480.81,557.74 481.00,557.64 481.19,557.50 481.37,557.31 481.56,557.07 481.75,556.78 481.94,556.43 482.13,556.01 482.31,555.50 482.50,554.86 482.69,554.05 482.88,553.02 483.07,551.66 483.26,549.89 483.44,547.61 483.63,544.71 483.82,541.16 484.01,536.93 484.20,532.11 484.38,526.88 484.57,521.51 484.76,516.36 484.95,511.84 485.14,508.34 485.33,506.20 485.51,505.63 485.70,506.69 485.89,509.26 486.08,513.10 486.27,517.83 486.45,523.05 486.64,528.36 486.83,533.42 487.02,537.98 487.21,541.90 487.39,545.11 487.58,547.64 487.77,549.56 487.96,550.96 488.15,551.94 488.34,552.60 488.52,553.00 488.71,553.21 488.90,553.28 489.09,553.24 489.28,553.11 489.46,552.91 489.65,552.68 489.84,552.41 490.03,552.12 490.22,551.84 490.41,551.58 490.59,551.35 490.78,551.17 490.97,551.04 491.16,550.97 491.35,550.96 491.53,551.01 491.72,551.13 491.91,551.29 492.10,551.48 492.29,551.70 492.48,551.90 492.66,552.06 492.85,552.15 493.04,552.11 493.23,551.90 493.42,551.46 493.60,550.74 493.79,549.71 493.98,548.36 494.17,546.70 494.36,544.80 494.54,542.76 494.73,540.74 494.92,538.91 495.11,537.43 495.30,536.47 495.49,536.14 495.67,536.48 495.86,537.46 496.05,539.01 496.24,540.97 496.43,543.18 496.61,545.48 496.80,547.71 496.99,549.75 497.18,551.54 497.37,553.05 497.56,554.27 497.74,555.23 497.93,555.97 498.12,556.55 498.31,556.99 498.50,557.33 498.68,557.60 498.87,557.83 499.06,558.01 499.25,558.17 499.44,558.31 499.62,558.43" fill="none" stroke="#861838" stroke-width="1.95" stroke-linejoin="round" stroke-linecap="round"/>
<rect x="0" y="0" width="520" height="1.15" fill="#000"/>
<rect x="0" y="0" width="1.4" height="578" fill="#000"/>
<rect x="518.5" y="0" width="1.5" height="578" fill="#000"/>
<rect x="0" y="576.1" width="520" height="1.9" fill="#000"/>
</svg>
</body></html>
